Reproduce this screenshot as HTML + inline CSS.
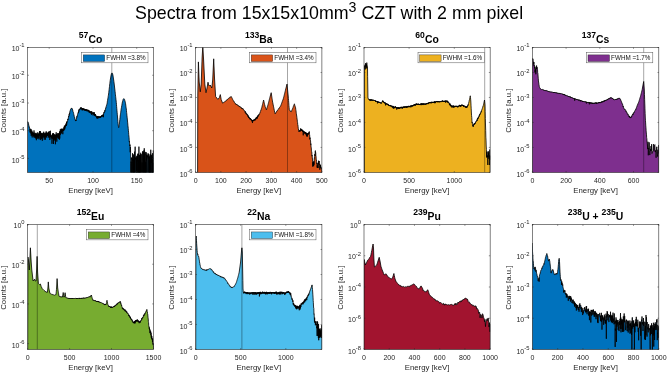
<!DOCTYPE html>
<html lang="en">
<head>
<meta charset="utf-8">
<title>Spectra from 15x15x10mm3 CZT with 2 mm pixel</title>
<style>
html,body{margin:0;padding:0;background:#fff;}
body{width:667px;height:373px;overflow:hidden;}
svg{display:block;}
text{font-family:"Liberation Sans", Arial, Helvetica, sans-serif;fill:#262626;}
.t{font-size:7.0px;}
.l{font-size:7.8px;}
.g{font-size:6.3px;fill:#111;}
.h{font-size:10.4px;font-weight:bold;fill:#000;}
.title{font-size:17.8px;fill:#000;}
</style>
</head>
<body>
<svg width="667" height="373" viewBox="0 0 667 373">
<rect width="667" height="373" fill="#fff"/>
<text x="329.1" y="19.1" text-anchor="middle" class="title">Spectra from 15x15x10mm<tspan dy="-7.6" font-size="14.2">3</tspan><tspan dy="7.6"> CZT with 2 mm pixel</tspan></text>
<g>
<clipPath id="c1"><rect x="27.6" y="47.5" width="125.9" height="124.9"/></clipPath>
<g clip-path="url(#c1)">
<path d="M27.5 174.4L27.5 121.6L27.68 121.67L27.85 122.33L28.02 121.94L28.2 122.6L28.39 124.14L28.57 123.87L28.76 125.43L28.94 125.38L29.13 127.24L29.31 126.86L29.5 128.6L29.69 129.18L29.88 128.86L30.07 132.48L30.27 128.79L30.46 131.21L30.65 130.73L30.84 133.43L31.03 128.97L31.23 135.89L31.42 130.52L31.61 134.84L31.8 134L32 130.68L32.2 137.41L32.4 132.53L32.6 135.17L32.8 131.91L33 135.27L33.2 133.21L33.4 135.88L33.6 132.87L33.8 136.73L34 130.42L34.2 137.79L34.4 133.89L34.6 136.12L34.8 132.64L35 136.36L35.2 133.54L35.4 137.77L35.6 133.27L35.8 138.56L36 134.8L36.19 133.97L36.38 140.2L36.58 133.31L36.77 136.68L36.96 134.62L37.15 138.97L37.35 132.4L37.54 136.55L37.73 135.02L37.92 138.03L38.12 133.98L38.31 136.47L38.5 134.12L38.69 138.33L38.88 132.8L39.08 139.45L39.27 132.62L39.46 135.72L39.65 131.01L39.85 135.88L40.04 131L40.23 137.65L40.42 131.36L40.62 140.06L40.81 133.64L41 134.4L41.19 139.05L41.38 133.35L41.58 137.7L41.77 132.8L41.96 138.55L42.15 133.97L42.35 140.77L42.54 133.44L42.73 136.62L42.92 133.51L43.12 137.7L43.31 132.76L43.5 136.07L43.69 131.71L43.88 137.14L44.08 133.54L44.27 139.66L44.46 133.4L44.65 137.35L44.85 134.27L45.04 136.9L45.23 132.64L45.42 139.71L45.62 133.29L45.81 136.08L46 135.6L46.19 131.31L46.38 136.78L46.58 132.45L46.77 137.71L46.96 133.03L47.15 135.97L47.35 133.4L47.54 135.25L47.73 133L47.92 135.7L48.12 131.98L48.31 135.18L48.5 132.05L48.69 137.2L48.88 131.71L49.08 137.97L49.27 131.1L49.46 135.37L49.65 133.6L49.85 140.02L50.04 133.95L50.23 137.02L50.42 130.74L50.62 136.99L50.81 134.52L51 136.6L51.19 138.62L51.38 135.53L51.58 137.47L51.77 135.82L51.96 143.78L52.15 135.08L52.34 137.48L52.53 133.75L52.73 139.08L52.92 133.27L53.11 137.36L53.3 133.18L53.49 143.99L53.68 133.74L53.88 140.52L54.07 134.99L54.26 138.71L54.45 135.44L54.64 139.37L54.83 134.02L55.02 140.48L55.22 134.86L55.41 144.25L55.6 136.4L55.8 134.9L56 139.75L56.2 132.27L56.4 137.4L56.6 134.01L56.8 141.67L57 135.37L57.2 137.66L57.4 134.61L57.6 137.22L57.8 133.23L58 137L58.2 133.04L58.4 138.55L58.6 134.01L58.8 138.47L59 133.6L59.19 134.34L59.38 139.73L59.57 131.87L59.76 138.51L59.95 130.97L60.15 135.09L60.34 129.28L60.53 134.37L60.72 130.7L60.91 132.78L61.1 128.8L61.29 132.31L61.48 128.77L61.67 133.5L61.86 129.24L62.05 131.22L62.25 129.44L62.44 131.41L62.63 129L62.82 134.22L63.01 128.4L63.2 130L63.4 130.98L63.6 128.75L63.8 130.68L64 126.92L64.2 129.28L64.4 125.72L64.6 129.69L64.8 125.84L65 128.41L65.2 125.31L65.4 126.78L65.6 124.49L65.8 125.82L66 124.8L66.17 123.32L66.35 125.95L66.53 122.02L66.7 124.7L66.88 121.48L67.05 122.38L67.23 121.36L67.4 121.5L67.59 120.94L67.78 119.16L67.96 120.04L68.15 118.27L68.34 118.43L68.53 116.29L68.71 116.91L68.9 115.7L69.09 114.45L69.27 115.32L69.46 113.04L69.64 113.66L69.83 111.51L70.01 111.13L70.2 110.6L70.4 109.68L70.6 109.83L70.8 108.91L71 108.6L71.2 108.49L71.4 108.09L71.6 108.1L71.77 108.55L71.95 108.33L72.12 109.06L72.3 109L72.48 109.11L72.66 110.44L72.84 110.39L73.02 111.63L73.2 112L73.37 112.24L73.53 113.34L73.7 113.57L73.87 114.64L74.03 115.1L74.2 116.2L74.39 116.72L74.58 116.93L74.76 118.45L74.95 118.41L75.14 119.67L75.33 119.69L75.51 121.02L75.7 121L75.88 120.15L76.06 121.01L76.24 119.19L76.42 119.2L76.6 118L76.77 116.45L76.93 117.24L77.1 116.19L77.27 116.04L77.43 114.85L77.6 114.3L77.78 114.22L77.96 112.98L78.13 113.01L78.31 111.98L78.49 112.72L78.67 110.4L78.84 111.57L79.02 109.31L79.2 109.7L79.39 110.12L79.57 109.05L79.76 109.61L79.94 108.69L80.13 109.03L80.31 107.91L80.5 107.9L80.67 109.21L80.83 107.49L81 108.47L81.17 107.37L81.33 108.32L81.5 108.2L81.69 108.06L81.88 109.7L82.06 108.35L82.25 110.46L82.44 108.33L82.62 109.77L82.81 108.02L83 109.3L83.19 109.94L83.38 108.52L83.58 110.08L83.77 108.69L83.96 110.16L84.15 108.67L84.35 109.98L84.54 109.31L84.73 110.67L84.92 109.21L85.12 110.31L85.31 109.31L85.5 110.83L85.69 109.27L85.88 110.36L86.08 109.33L86.27 110.31L86.46 109.57L86.65 111.16L86.85 109.57L87.04 110.5L87.23 110.01L87.42 111.22L87.62 109.71L87.81 111.1L88 111L88.2 109.86L88.39 111.63L88.59 110.21L88.79 111.32L88.98 110.07L89.18 112.65L89.38 111.16L89.57 112.26L89.77 111.09L89.97 112.82L90.16 111.27L90.36 113.1L90.56 111.66L90.75 112.31L90.95 112L91.14 113.67L91.34 111.41L91.54 114.77L91.73 111.34L91.93 113.78L92.13 112.54L92.32 113.39L92.52 112.57L92.72 113.54L92.91 113.22L93.11 115.45L93.31 112.29L93.5 114.22L93.7 114.4L93.9 112.58L94.1 114.58L94.3 112.3L94.5 115.46L94.7 114.08L94.9 116.07L95.1 114.81L95.3 115.88L95.5 114.05L95.7 116.17L95.9 115.38L96.1 116.68L96.3 116.05L96.5 117.3L96.69 117.8L96.88 116.13L97.07 118.62L97.26 116.65L97.45 118.18L97.64 116.15L97.83 118.32L98.02 115.96L98.21 117.99L98.4 118.2L98.6 116.53L98.8 117.44L99 116.44L99.2 117.23L99.4 116.94L99.6 117.97L99.8 116.29L100 118L100.2 116.5L100.4 117.65L100.6 116.34L100.8 117.44L101 116.8L101.18 115.99L101.37 116.66L101.55 115.7L101.73 116.92L101.92 115.03L102.1 116.42L102.28 115.57L102.47 116.23L102.65 115.17L102.83 116.16L103.02 114.22L103.2 114.4L103.39 117.21L103.58 113.22L103.77 113.42L103.96 112.29L104.15 113.03L104.35 111.61L104.54 111.62L104.73 110.49L104.92 111.44L105.11 109.66L105.3 109.5L105.49 109.54L105.68 107.99L105.87 108L106.06 106.74L106.24 106.44L106.43 105.54L106.62 105.6L106.81 104.45L107 104L107.2 102.93L107.4 101.15L107.6 100.33L107.8 98.83L108 97.77L108.2 96.39L108.4 95.26L108.6 94L108.78 92.44L108.96 90.99L109.13 89.45L109.31 87.98L109.49 86.47L109.67 84.99L109.84 83.48L110.02 82L110.2 80.5L111.1 75L111.6 73.3L112 72.9L112.4 73.3L112.9 75L113.9 81.5L115.1 91.7L115.27 93.23L115.44 94.81L115.61 96.31L115.79 97.91L115.96 99.37L116.13 101.02L116.3 102.5L116.47 104.51L116.64 106.64L116.81 108.59L116.99 110.83L117.16 112.74L117.33 114.83L117.5 117L117.7 119.03L117.9 121.49L118.1 123.46L118.3 126L118.43 126.44L118.57 126.77L118.7 127.6L118.9 126.77L119.1 125.42L119.3 124.5L119.48 122.9L119.66 121.05L119.84 119.52L120.02 117.62L120.2 116L120.37 114.82L120.53 113.55L120.7 112.49L120.87 111.2L121.03 110.15L121.2 108.9L121.37 107.86L121.54 107.14L121.71 105.87L121.89 105.18L122.06 103.89L122.23 103.03L122.4 102L122.6 101.27L122.8 100.68L123 99.91L123.2 99.3L123.4 99.09L123.6 98.77L123.8 98.6L123.97 98.83L124.15 98.92L124.33 99.2L124.5 99.3L124.68 99.89L124.86 100.69L125.04 101.17L125.22 101.97L125.4 102.5L125.58 103.74L125.76 105.12L125.94 106.33L126.12 107.75L126.3 108.9L126.47 110.61L126.63 112.44L126.8 113.9L126.97 115.86L127.13 117.16L127.3 119L127.5 121.02L127.7 122.87L127.9 125.19L128.1 127L128.26 128.61L128.42 130.84L128.58 132.2L128.74 134.49L128.9 136L129.08 137.5L129.26 141.56L129.44 141.04L129.62 143.87L129.8 146L130 144.65L130.2 152.27L130.4 146.84L130.6 152L130.73 163.22L130.86 174.4L130.99 174.4L131.12 161.65L131.25 174.4L131.38 161.96L131.51 157.57L131.64 159.35L131.77 157.94L131.9 174.4L132.03 174.4L132.16 174.4L132.29 174.4L132.42 161.83L132.55 153.28L132.68 174.4L132.81 174.4L132.94 158.89L133.07 174.4L133.2 174.4L133.33 162.95L133.46 154.47L133.59 174.4L133.72 159.36L133.85 174.4L133.98 174.4L134.11 174.4L134.24 156.3L134.37 174.4L134.5 151.68L134.63 174.4L134.76 174.4L134.89 174.4L135.02 155.19L135.15 146.7L135.28 159.29L135.41 157.98L135.54 157.51L135.67 174.4L135.8 174.4L135.93 174.4L136.06 174.4L136.19 158.23L136.32 174.4L136.45 156.45L136.58 156.63L136.71 158.5L136.84 174.4L136.97 158.5L137.1 155.65L137.23 174.4L137.36 156.11L137.49 155.91L137.62 161.24L137.75 155.71L137.88 153.9L138.01 174.4L138.14 153.52L138.27 174.4L138.4 174.4L138.53 160.52L138.66 174.4L138.79 174.4L138.92 146.64L139.05 174.4L139.18 174.4L139.31 155.04L139.44 174.4L139.57 160.66L139.7 174.4L139.83 155.21L139.96 156.23L140.09 174.4L140.22 162.41L140.35 154.1L140.48 174.4L140.61 157.94L140.74 152.75L140.87 160.69L141 174.4L141.13 174.4L141.26 174.4L141.39 154.23L141.52 174.4L141.65 174.4L141.78 174.4L141.91 174.4L142.04 162.51L142.17 174.4L142.3 174.4L142.43 174.4L142.56 151.35L142.69 174.4L142.82 174.4L142.95 174.4L143.08 174.4L143.21 157.34L143.34 151.71L143.47 174.4L143.6 158.88L143.73 155.45L143.86 150.75L143.99 150.37L144.12 174.4L144.25 148.27L144.38 174.4L144.51 153.78L144.64 154.06L144.77 155.02L144.9 153.53L145.03 161.13L145.16 174.4L145.29 151.92L145.42 174.4L145.55 174.4L145.68 161.72L145.81 174.4L145.94 174.4L146.07 156.73L146.2 152.68L146.33 152.3L146.46 160.42L146.59 155.12L146.72 174.4L146.85 154.68L146.98 156.9L147.11 155.41L147.24 174.4L147.37 174.4L147.5 174.4L147.63 174.4L147.76 156.25L147.89 157.09L148.02 153.3L148.15 158.44L148.28 156.26L148.41 154.61L148.54 153.88L148.67 174.4L148.8 157.45L148.93 158.17L149.06 159.26L149.19 174.4L149.32 174.4L149.45 157.12L149.58 174.4L149.71 155.6L149.84 174.4L149.97 174.4L150.1 154.21L150.23 155.35L150.36 174.4L150.49 174.4L150.62 157.61L150.75 149.76L150.88 157.48L151.01 174.4L151.14 174.4L151.27 154.76L151.4 161.36L151.53 162.86L151.66 155.53L151.79 174.4L151.92 174.4L152.05 163.03L152.18 157.22L152.31 174.4L152.44 153.25L152.57 161.38L152.7 160.04L152.83 174.4L152.96 162.75L153.09 174.4L153.22 174.4L153.35 150.39L153.48 153.88L153.6 156.8L153.6 174.4Z" fill="#0072BD" stroke="#000" stroke-width="0.8" stroke-linejoin="round"/>
<line x1="111.8" y1="47.5" x2="111.8" y2="172.4" stroke="#000" stroke-opacity="0.5" stroke-width="0.7"/>
</g>
<rect x="27.6" y="47.5" width="125.9" height="124.9" fill="none" stroke="#262626" stroke-width="0.58"/>
<path d="M27.6 47.5h1.3M153.5 47.5h-1.3M27.6 75.25h1.3M153.5 75.25h-1.3M27.6 103h1.3M153.5 103h-1.3M27.6 130.7h1.3M153.5 130.7h-1.3M27.6 158.4h1.3M153.5 158.4h-1.3M49.2 172.4v-1.3M49.2 47.5v1.3M93 172.4v-1.3M93 47.5v1.3M136.7 172.4v-1.3M136.7 47.5v1.3" stroke="#262626" stroke-width="0.5" fill="none"/>
<text x="24.6" y="50.95" text-anchor="end" class="t">10<tspan dy="-3.6" font-size="5.8">-1</tspan></text>
<text x="24.6" y="78.9" text-anchor="end" class="t">10<tspan dy="-3.6" font-size="5.8">-2</tspan></text>
<text x="24.6" y="106.85" text-anchor="end" class="t">10<tspan dy="-3.6" font-size="5.8">-3</tspan></text>
<text x="24.6" y="134.75" text-anchor="end" class="t">10<tspan dy="-3.6" font-size="5.8">-4</tspan></text>
<text x="24.6" y="162.65" text-anchor="end" class="t">10<tspan dy="-3.6" font-size="5.8">-5</tspan></text>
<text x="49.2" y="182.9" text-anchor="middle" class="t">50</text>
<text x="93" y="182.9" text-anchor="middle" class="t">100</text>
<text x="136.7" y="182.9" text-anchor="middle" class="t">150</text>
<text x="90.55" y="193" text-anchor="middle" class="l">Energy [keV]</text>
<text transform="translate(6.3 110.65) rotate(-90)" text-anchor="middle" class="l">Counts [a.u.]</text>
<text x="90.55" y="43" text-anchor="middle" class="h"><tspan dy="-4.9" font-size="8.6">57</tspan><tspan dy="4.9">Co</tspan></text>
<rect x="81.6" y="52.5" width="66.4" height="10.3" fill="#fff" stroke="#555" stroke-width="0.5"/>
<rect x="83.2" y="54.9" width="21.5" height="6.6" fill="#0072BD" stroke="#222" stroke-width="0.4"/>
<text x="106.3" y="59.9" class="g">FWHM =3.8%</text>
</g>
<g>
<clipPath id="c2"><rect x="195.6" y="47.5" width="126.3" height="124.9"/></clipPath>
<g clip-path="url(#c2)">
<path d="M197.6 174.4L197.6 172.4L197.8 95L198.4 61.9L199.2 82L200.3 91.8L201.2 84L202.1 58L202.8 46L203.6 60L204.8 84L206 92.7L207 88L208 82.2L208.8 85.5L209.3 86L210.2 85L211.8 88L212.7 80L213.7 58.8L214.5 78L215.6 96.5L217.9 99.4L219.4 97.5L220.3 94.6L221.2 99.5L222.6 103.2L222.78 103.06L222.97 102.97L223.15 102.81L223.34 102.78L223.52 102.54L223.71 102.51L223.89 102.32L224.08 102.28L224.26 102.04L224.45 102.04L224.63 101.78L224.82 101.69L225 101.5L225.19 101.2L225.38 101.3L225.56 101.02L225.75 100.95L225.94 100.7L226.12 100.68L226.31 100.29L226.5 100.39L226.69 99.98L226.88 99.99L227.06 99.59L227.25 99.67L227.44 99.23L227.62 99.27L227.81 99.05L228 99L228.2 98.87L228.4 98.56L228.6 98.53L228.8 98.25L229 98.39L229.2 97.92L229.4 97.97L229.6 97.53L229.8 97.69L230 97.3L230.2 97.25L230.4 96.88L230.6 97.12L230.8 96.71L231 96.73L231.2 96.5L231.38 96.68L231.56 97.2L231.74 97.43L231.92 97.95L232.1 98.09L232.28 98.67L232.46 98.83L232.64 99.43L232.82 99.61L233 100L233.18 100.34L233.36 100.55L233.55 100.9L233.73 100.99L233.91 101.69L234.09 101.6L234.27 102.16L234.45 102.21L234.64 102.79L234.82 102.86L235 103.2L235.19 103.45L235.38 103.33L235.56 103.85L235.75 103.72L235.94 104.31L236.12 103.99L236.31 104.45L236.5 104.38L236.69 104.9L236.88 104.41L237.06 104.86L237.25 104.77L237.44 105.24L237.62 105.14L237.81 105.5L238 105.5L238.19 105.28L238.39 105.74L238.58 105.7L238.78 106.14L238.97 105.91L239.17 106.52L239.36 106.22L239.56 106.6L239.75 106.3L239.95 106.94L240.14 106.68L240.34 107.29L240.53 107.07L240.73 107.38L240.92 107.13L241.12 107.65L241.31 107.58L241.51 108.41L241.7 108L241.89 108.06L242.08 108.61L242.27 108.25L242.47 108.96L242.66 108.55L242.85 109.15L243.04 108.85L243.23 109.53L243.43 109.35L243.62 109.69L243.81 109.71L244 110L244.18 110.64L244.37 110.5L244.55 111.17L244.74 111.1L244.92 111.64L245.11 111.52L245.29 112.77L245.48 111.54L245.66 112.62L245.85 112.39L246.03 114.03L246.22 113.05L246.4 113.6L246.59 114.13L246.79 113.85L246.98 114.99L247.17 114.21L247.37 115.1L247.56 114.8L247.75 116.16L247.95 115.35L248.14 116.75L248.33 115.77L248.53 117.93L248.72 116.76L248.91 117.79L249.11 116.95L249.3 118L249.5 118.94L249.7 118.28L249.9 119.18L250.1 118.29L250.3 119.51L250.5 118.35L250.7 119.42L250.9 118.94L251.1 120.13L251.3 119.27L251.5 120.56L251.7 120.11L251.9 121.32L252.1 121L252.29 120.05L252.48 123.03L252.67 120.38L252.86 121.11L253.05 119.93L253.24 121.02L253.43 120.39L253.62 121.09L253.81 119.59L254 120.3L254.19 120.51L254.38 119.52L254.56 120.17L254.75 119.21L254.94 120.5L255.12 118.83L255.31 119.58L255.5 118.78L255.69 119.71L255.88 118.02L256.06 118.89L256.25 117.23L256.44 118.55L256.62 117.26L256.81 117.69L257 117L257.19 116.56L257.37 118.53L257.56 115.79L257.75 116.81L257.93 115.74L258.12 115.97L258.31 115.35L258.49 116.25L258.68 114.74L258.87 115.06L259.05 113.98L259.24 114.24L259.43 113.63L259.61 113.68L259.8 113.5L259.98 112.45L260.16 112.47L260.35 111.58L260.53 111.36L260.71 110.45L260.89 110.52L261.07 109.52L261.25 109.43L261.44 108.42L261.62 108L261.8 107.5L261.98 106.62L262.16 106.1L262.34 105.17L262.52 104.55L262.7 103.67L262.88 103.15L263.06 102.16L263.24 101.52L263.42 100.7L263.6 100L263.8 101.03L264 101.65L264.2 102.63L264.4 103.39L264.6 104.49L264.8 105.02L265 106L265.2 106.73L265.4 107.03L265.6 107.76L265.8 108.16L266 108.87L266.2 109.3L266.4 109.9L266.58 109.49L266.76 108.6L266.94 108.14L267.12 107.46L267.3 107.07L267.48 106.26L267.66 105.84L267.84 105.15L268.02 104.63L268.2 104L268.38 103.27L268.56 102.64L268.74 101.87L268.92 101.26L269.1 100.48L269.28 99.81L269.46 99.09L269.64 98.42L269.82 97.69L270 97L271.2 92.7L271.38 93.88L271.55 95.02L271.73 96.22L271.9 97.33L272.07 98.56L272.25 99.64L272.43 100.86L272.6 102L272.8 102.9L273 104L273.2 104.84L273.4 106L273.6 106.8L273.8 107.87L274 108.76L274.2 110.03L274.4 110.71L274.6 112.05L274.8 112.61L275 113.7L275.19 113.64L275.38 113.14L275.58 113.39L275.77 112.71L275.96 112.52L276.15 111.94L276.35 111.91L276.54 111.52L276.73 111.56L276.92 111.04L277.12 110.97L277.31 110.42L277.5 110.5L277.7 110.09L277.9 109.7L278.1 109.51L278.3 109.17L278.5 109.13L278.7 108.61L278.9 108.75L279.1 108.05L279.3 107.92L279.5 107.46L279.7 107.36L279.9 106.96L280.1 106.82L280.3 106.35L280.5 106.31L280.7 106L280.89 105.29L281.07 104.97L281.26 104.35L281.45 104.03L281.63 103.31L281.82 102.99L282.01 102.21L282.19 101.8L282.38 101.15L282.57 100.72L282.75 100.04L282.94 99.76L283.13 99.02L283.31 98.7L283.5 98L283.68 97.27L283.86 96.63L284.05 95.79L284.23 95.18L284.41 94.35L284.59 93.66L284.77 92.9L284.95 92.2L285.14 91.45L285.32 90.73L285.5 90L287 84.1L288.2 96L288.38 98.31L288.57 100.68L288.75 102.9L288.93 105.44L289.12 107.49L289.3 109.9L289.49 110.13L289.68 110.23L289.87 110.64L290.06 110.64L290.25 111.1L290.44 111.05L290.63 111.46L290.82 111.53L291.01 111.85L291.2 111.8L291.38 111.44L291.56 111.12L291.74 110.41L291.92 110.19L292.1 109.66L292.28 109.36L292.46 108.79L292.64 108.77L292.82 107.88L293 107.5L293.2 107.32L293.4 106.26L293.6 105.99L293.8 105.26L294 104.98L294.2 104.29L294.4 103.8L294.57 104.51L294.74 104.92L294.91 105.76L295.09 106.11L295.26 107.04L295.43 107.23L295.6 108L295.79 109.52L295.97 110.44L296.16 112.19L296.34 113.41L296.53 114.98L296.71 116.05L296.9 117.5L297.07 119.02L297.23 119.95L297.4 121.83L297.57 122.54L297.73 124.56L297.9 125L298.08 126.44L298.26 128.67L298.44 128.76L298.62 130.83L298.8 131.5L299 131.02L299.2 131.5L299.4 130.65L299.6 131.09L299.8 130.21L300 131.68L300.2 129.97L300.4 130.73L300.6 128.41L300.8 130.12L301 130.5L301.19 128.91L301.38 130.97L301.56 129.6L301.75 130.12L301.94 129.51L302.12 130.65L302.31 129.92L302.5 131.4L302.69 130.37L302.88 131.94L303.06 130.58L303.25 135.34L303.44 130.99L303.62 132L303.81 131.31L304 132.5L304.19 133.81L304.38 131.63L304.56 132.73L304.75 131.83L304.94 132.82L305.12 132.03L305.31 133.46L305.5 132.07L305.69 134.17L305.88 133.18L306.06 134.5L306.25 132.68L306.44 135.69L306.62 132.93L306.81 136.46L307 134.5L307.19 134.03L307.38 136.47L307.56 133.15L307.75 135.07L307.94 133.5L308.12 134.61L308.31 133.16L308.5 133L308.66 133.8L308.82 132.48L308.98 133.02L309.14 132.25L309.3 131.5L309.48 134.37L309.67 134.76L309.85 139.31L310.03 137.62L310.22 139.53L310.4 140L310.57 140.89L310.74 144.68L310.91 143.74L311.09 147.41L311.26 147.44L311.43 150.23L311.6 151.5L311.79 152.03L311.98 156.08L312.16 155.29L312.35 158.75L312.54 158.5L312.73 166.64L312.91 162.19L313.1 164.9L313.28 165.63L313.47 162.13L313.65 166.17L313.83 161.13L314.02 164.72L314.2 160L314.4 157.77L314.6 158.18L314.8 154.18L315 155.99L315.2 151.32L315.4 150.6L315.57 153.24L315.73 152.77L315.9 155.89L316.07 156.5L316.23 160L316.4 160L316.58 161.29L316.77 163.98L316.95 163.3L317.13 167.55L317.32 165.45L317.5 168L317.69 167.54L317.87 163.4L318.06 167.97L318.24 162.58L318.43 164.17L318.61 160.71L318.8 161L319 162.59L319.2 161.05L319.4 164.74L319.6 163.73L319.8 169.73L320 166L320.18 165.14L320.35 167.76L320.52 164.72L320.7 167.7L320.88 167.75L321.05 166.87L321.23 168.52L321.4 168.07L321.57 168.85L321.75 168.81L321.93 170.32L322.1 170L322.1 174.4Z" fill="#D95319" stroke="#000" stroke-width="0.8" stroke-linejoin="round"/>
<line x1="287.5" y1="47.5" x2="287.5" y2="172.4" stroke="#000" stroke-opacity="0.5" stroke-width="0.7"/>
</g>
<rect x="195.6" y="47.5" width="126.3" height="124.9" fill="none" stroke="#262626" stroke-width="0.58"/>
<path d="M195.6 47.5h1.3M321.9 47.5h-1.3M195.6 72.48h1.3M321.9 72.48h-1.3M195.6 97.46h1.3M321.9 97.46h-1.3M195.6 122.44h1.3M321.9 122.44h-1.3M195.6 147.42h1.3M321.9 147.42h-1.3M195.6 172.4h1.3M321.9 172.4h-1.3M195.6 172.4v-1.3M195.6 47.5v1.3M220.86 172.4v-1.3M220.86 47.5v1.3M246.12 172.4v-1.3M246.12 47.5v1.3M271.38 172.4v-1.3M271.38 47.5v1.3M296.64 172.4v-1.3M296.64 47.5v1.3M321.9 172.4v-1.3M321.9 47.5v1.3" stroke="#262626" stroke-width="0.5" fill="none"/>
<text x="192.6" y="50.95" text-anchor="end" class="t">10<tspan dy="-3.6" font-size="5.8">-1</tspan></text>
<text x="192.6" y="76.11" text-anchor="end" class="t">10<tspan dy="-3.6" font-size="5.8">-2</tspan></text>
<text x="192.6" y="101.27" text-anchor="end" class="t">10<tspan dy="-3.6" font-size="5.8">-3</tspan></text>
<text x="192.6" y="126.43" text-anchor="end" class="t">10<tspan dy="-3.6" font-size="5.8">-4</tspan></text>
<text x="192.6" y="151.59" text-anchor="end" class="t">10<tspan dy="-3.6" font-size="5.8">-5</tspan></text>
<text x="192.6" y="176.75" text-anchor="end" class="t">10<tspan dy="-3.6" font-size="5.8">-6</tspan></text>
<text x="195.6" y="182.9" text-anchor="middle" class="t">0</text>
<text x="220.86" y="182.9" text-anchor="middle" class="t">100</text>
<text x="246.12" y="182.9" text-anchor="middle" class="t">200</text>
<text x="271.38" y="182.9" text-anchor="middle" class="t">300</text>
<text x="296.64" y="182.9" text-anchor="middle" class="t">400</text>
<text x="321.9" y="182.9" text-anchor="middle" class="t">500</text>
<text x="258.75" y="193" text-anchor="middle" class="l">Energy [keV]</text>
<text transform="translate(174.3 110.65) rotate(-90)" text-anchor="middle" class="l">Counts [a.u.]</text>
<text x="258.75" y="43" text-anchor="middle" class="h"><tspan dy="-4.9" font-size="8.6">133</tspan><tspan dy="4.9">Ba</tspan></text>
<rect x="249.6" y="52.5" width="66.4" height="10.3" fill="#fff" stroke="#555" stroke-width="0.5"/>
<rect x="251.2" y="54.9" width="21.5" height="6.6" fill="#D95319" stroke="#222" stroke-width="0.4"/>
<text x="274.3" y="59.9" class="g">FWHM =3.4%</text>
</g>
<g>
<clipPath id="c3"><rect x="364" y="47.5" width="126.15" height="124.9"/></clipPath>
<g clip-path="url(#c3)">
<path d="M364.3 174.4L364.3 172.4L364.4 70L364.55 67.18L364.7 65.8L364.88 68.43L365.05 64.74L365.22 69.43L365.4 65.6L365.58 63.18L365.76 66.55L365.94 65.15L366.12 66.67L366.3 65.6L366.46 64.16L366.62 68.4L366.78 62.62L366.94 65.8L367.1 65.6L367.3 66.15L367.5 67L367.62 76.25L367.75 85L367.95 98L368.11 98.26L368.27 98.92L368.44 98.77L368.6 99.2L368.8 99.55L369 99.23L369.2 99.72L369.4 99.21L369.6 100.37L369.8 99.64L370 100.33L370.2 99.49L370.4 100.7L370.6 99.54L370.8 100.61L371 99.6L371.2 99.05L371.4 100.1L371.6 99.75L371.8 100.86L372 99.82L372.2 100.47L372.4 100.09L372.6 100.54L372.8 99.56L373 100.49L373.2 99.88L373.4 100.39L373.6 99.94L373.8 100.38L374 100.02L374.2 100.79L374.4 100.4L374.59 100.12L374.78 100.75L374.97 100.27L375.16 100.87L375.35 100.43L375.54 101.71L375.73 100.82L375.92 101.84L376.11 100.92L376.29 101.45L376.48 101.12L376.67 101.5L376.86 100.99L377.05 101.65L377.24 101.01L377.43 103.39L377.62 101.19L377.81 101.78L378 101.8L378.19 101.54L378.39 102.7L378.58 101.77L378.77 102.65L378.97 101.74L379.16 102.74L379.36 102.15L379.55 102.83L379.74 102.34L379.94 102.91L380.13 102.02L380.33 103.07L380.52 102.76L380.71 103.4L380.91 102.94L381.1 103.2L381.28 103.64L381.47 102.61L381.65 103.08L381.83 102.16L382.02 102.06L382.2 101.6L382.36 101.28L382.52 101.97L382.68 100.46L382.84 101.68L383 100.9L383.2 101.35L383.4 102.14L383.6 101.48L383.8 102.85L384 102.19L384.2 102.3L384.39 102.87L384.58 102.25L384.77 103.47L384.96 102.19L385.15 103.34L385.34 102.87L385.53 105.38L385.72 103.15L385.91 103.73L386.09 103.27L386.28 104.14L386.47 103.53L386.66 104.39L386.85 103.73L387.04 104.56L387.23 104.05L387.42 104.97L387.61 103.72L387.8 104.3L388 104.97L388.2 104.04L388.4 105.52L388.6 104.73L388.8 105.82L389 105.03L389.2 105.67L389.4 105.22L389.6 105.73L389.8 105.06L390 106.19L390.2 104.98L390.4 105.9L390.6 105.46L390.8 106.3L391 105.28L391.2 106.62L391.4 105.93L391.6 106.45L391.8 105.87L392 106.3L392.2 107.35L392.39 105.98L392.59 107.33L392.78 105.87L392.98 107.73L393.17 106.18L393.37 108.67L393.56 106.47L393.76 107.36L393.95 106.79L394.15 108.33L394.35 106.66L394.54 107.9L394.74 106.98L394.93 108.17L395.13 107.17L395.32 107.65L395.52 106.15L395.71 107.42L395.91 107.25L396.1 107.94L396.3 107.9L396.49 107.23L396.69 109.61L396.88 107.31L397.08 107.98L397.27 107.38L397.47 108.22L397.66 107.55L397.86 108.89L398.05 107.35L398.25 108.95L398.44 107.54L398.64 108.19L398.83 107.21L399.03 108.58L399.22 107.71L399.42 108.74L399.61 107.58L399.81 108.63L400 107.7L400.2 107.26L400.39 107.84L400.59 106.95L400.78 108.12L400.98 107.15L401.18 108.33L401.37 106.75L401.57 107.56L401.76 107.2L401.96 107.95L402.16 106.95L402.35 108.77L402.55 106.98L402.74 108.04L402.94 106.85L403.14 107.84L403.33 106.68L403.53 107.55L403.72 106.58L403.92 107.26L404.12 106.75L404.31 107.6L404.51 106.47L404.7 107.98L404.9 107L405.1 106.63L405.29 107.34L405.49 106.44L405.69 107.49L405.89 106.6L406.08 107.16L406.28 106.57L406.48 107.87L406.67 106.47L406.87 107.33L407.07 105.96L407.27 107.16L407.46 106.43L407.66 107.43L407.86 106.3L408.06 107.21L408.25 106.08L408.45 106.86L408.65 105.82L408.84 106.63L409.04 106.06L409.24 107.2L409.44 106.14L409.63 107.06L409.83 106.02L410.03 106.64L410.23 105.75L410.42 106.31L410.62 105.99L410.82 107.36L411.01 105.25L411.21 106.45L411.41 105.69L411.61 106.47L411.8 105.5L412 105.6L412.2 106.77L412.4 105.09L412.59 105.89L412.79 105.07L412.99 106.21L413.19 105.06L413.38 105.94L413.58 105.36L413.78 105.67L413.98 104.4L414.17 105.08L414.37 104.23L414.57 105.44L414.77 104.54L414.96 105.47L415.16 104.27L415.36 105.64L415.56 104.38L415.75 104.92L415.95 103.8L416.15 104.87L416.35 103.3L416.54 104.78L416.74 104.08L416.94 104.88L417.14 104.16L417.33 104.8L417.53 104.04L417.73 104.83L417.93 103.55L418.12 104.71L418.32 103.69L418.52 104.99L418.72 104.18L418.91 104.81L419.11 104.17L419.31 104.89L419.51 104.05L419.7 105.04L419.9 103.97L420.1 104.1L420.3 104.81L420.49 104.22L420.69 104.76L420.89 103.42L421.09 105.18L421.28 103.29L421.48 104.8L421.68 103.83L421.87 104.34L422.07 103.49L422.27 104.6L422.47 103.5L422.66 104.71L422.86 103.76L423.06 105.06L423.25 103.91L423.45 104.61L423.65 103.27L423.85 104.4L424.04 103.55L424.24 104.27L424.44 103.75L424.63 104.4L424.83 103.81L425.03 104.86L425.23 103.82L425.42 104.42L425.62 103.58L425.82 104.46L426.01 103.76L426.21 104.32L426.41 103.19L426.61 104.11L426.8 103.2L427 103L427.2 103.89L427.39 103.1L427.59 103.44L427.79 102.93L427.98 104.19L428.18 102.85L428.38 103.72L428.58 102.76L428.77 103.36L428.97 102.25L429.17 102.91L429.36 102.39L429.56 103.09L429.76 102.01L429.95 103.23L430.15 102.16L430.35 102.81L430.55 102.33L430.74 102.92L430.94 102.45L431.14 103.43L431.33 101.73L431.53 102.67L431.73 102.06L431.92 102.78L432.12 102.15L432.32 102.92L432.52 101.82L432.71 102.67L432.91 102.08L433.11 102.89L433.3 102.05L433.5 102.1L433.7 102.79L433.89 102.04L434.09 102.68L434.29 101.06L434.48 102.77L434.68 101.98L434.88 103.27L435.08 101.7L435.27 102.32L435.47 101.78L435.67 102.91L435.86 101.34L436.06 102.01L436.26 101.25L436.45 101.79L436.65 101.22L436.85 101.99L437.05 100.99L437.24 101.63L437.44 101.23L437.64 102.19L437.83 101.08L438.03 102.2L438.23 101.18L438.42 102.16L438.62 101.29L438.82 101.7L439.02 101.49L439.21 101.89L439.41 101.34L439.61 102.39L439.8 101.47L440 101.4L440.19 102.02L440.39 101.4L440.58 101.7L440.78 101.12L440.97 102.12L441.17 101.28L441.36 101.71L441.55 101.11L441.75 101.51L441.94 100.81L442.14 101.35L442.33 100.76L442.53 101.48L442.72 100.42L442.91 101.76L443.11 100.98L443.3 101.48L443.5 100.98L443.69 101.85L443.89 101.23L444.08 101.64L444.27 100.91L444.47 101.74L444.66 100.84L444.86 101.97L445.05 100.9L445.25 101.65L445.44 100.43L445.63 102.67L445.83 101.06L446.02 101.63L446.22 100.91L446.41 101.42L446.61 100.58L446.8 100.7L446.99 102.01L447.18 100.63L447.37 102.41L447.56 101.04L447.75 102.23L447.94 101.55L448.13 102.52L448.32 101.88L448.51 102.77L448.7 102.2L448.89 102.8L449.07 103.62L449.26 103.45L449.45 104.74L449.64 103.48L449.82 105.2L450.01 103.6L450.2 104.6L450.38 105.8L450.55 104.54L450.73 105.76L450.9 104.97L451.07 106.56L451.25 105.56L451.43 106.71L451.6 106.4L451.8 105.53L452 107.68L452.2 106.01L452.4 106.57L452.6 105.66L452.8 107.14L453 106.17L453.2 106.65L453.4 105.46L453.6 107.47L453.8 105.82L454 107.58L454.2 106.1L454.4 106.76L454.6 105.97L454.8 106.59L455 106.3L455.2 105.73L455.4 106.58L455.6 106L455.8 106.91L456 105.94L456.2 106.85L456.4 105.97L456.6 106.31L456.8 105.76L457 106.78L457.2 105.96L457.4 107.09L457.6 106.31L457.8 107.44L458 106.08L458.2 106L458.39 106.68L458.58 105.9L458.77 106.64L458.96 105.77L459.15 106.07L459.34 104.92L459.53 106.09L459.72 104.94L459.91 105.72L460.1 105.24L460.29 106.85L460.48 105.33L460.67 106.31L460.86 105.04L461.05 106.41L461.24 105.28L461.43 105.68L461.62 104.61L461.81 105.53L462 105.1L462.19 104.73L462.38 105.77L462.58 104.9L462.77 105.77L462.96 105.03L463.15 105.96L463.35 105.07L463.54 106.79L463.73 105.54L463.92 106.22L464.12 105.71L464.31 106.52L464.5 106.2L464.69 105.81L464.88 106.55L465.07 106.08L465.27 107.35L465.46 106.66L465.65 107.4L465.84 106.45L466.03 107.74L466.23 106.48L466.42 107.31L466.61 106.74L466.8 108L466.99 107.05L467.18 106.11L467.36 106.91L467.55 105.47L467.74 105.71L467.93 104.71L468.11 105.48L468.3 105L468.5 103.46L468.7 103.19L468.9 102.03L469.1 101.28L469.3 100.12L469.5 99.5L469.66 98.81L469.82 97.8L469.98 97.33L470.14 96.35L470.3 95.8L470.47 97.56L470.63 99.07L470.8 101L471 105.14L471.2 108.81L471.4 113L471.57 115.69L471.75 117.38L471.93 120.74L472.1 123L472.28 122.34L472.45 124.49L472.62 124.54L472.8 126.2L472.97 126.34L473.13 124.86L473.3 126.77L473.47 124.6L473.63 124.91L473.8 125L474 123.73L474.2 124.82L474.4 123.19L474.6 124.26L474.8 123.39L475 123.3L475.19 123.95L475.38 122.31L475.56 122.83L475.75 121.77L475.94 122.01L476.12 121.43L476.31 121.74L476.5 121L476.69 120.42L476.88 120.92L477.08 119.51L477.27 120.56L477.46 118.26L477.65 119.21L477.85 118.06L478.04 118.5L478.23 117.23L478.42 118.21L478.62 116.65L478.81 116.91L479 116.3L479.19 115.43L479.38 116.32L479.58 114.16L479.77 114.7L479.96 113.99L480.15 114.3L480.35 112.99L480.54 113.47L480.73 112.41L480.92 112.75L481.12 111.47L481.31 111.99L481.5 111L481.68 110.13L481.86 110.01L482.04 109.22L482.22 108.93L482.4 108.14L482.58 107.77L482.76 106.8L482.94 106.83L483.12 106.01L483.3 105.5L483.5 104.78L483.7 103.65L483.9 102.91L484.1 101.82L484.3 100.95L484.5 100L485 105L485.17 111.65L485.33 118.59L485.5 125L485.68 130.31L485.85 137.15L486.02 140.09L486.2 146L486.4 149.32L486.6 157.41L486.8 151.76L487 154.72L487.2 157.31L487.4 155.51L487.6 157.68L487.8 164.96L488 151.51L488.2 157.47L488.4 153.5L488.6 155.06L488.8 151.43L489 158.97L489.2 155.2L489.4 165.03L489.6 161.74L489.8 149.51L490 159.94L490.2 155.63L490.2 157L490.2 174.4Z" fill="#EDB120" stroke="#000" stroke-width="0.8" stroke-linejoin="round"/>
<line x1="484.7" y1="47.5" x2="484.7" y2="172.4" stroke="#000" stroke-opacity="0.5" stroke-width="0.7"/>
</g>
<rect x="364" y="47.5" width="126.15" height="124.9" fill="none" stroke="#262626" stroke-width="0.58"/>
<path d="M364 47.5h1.3M490.15 47.5h-1.3M364 72.48h1.3M490.15 72.48h-1.3M364 97.46h1.3M490.15 97.46h-1.3M364 122.44h1.3M490.15 122.44h-1.3M364 147.42h1.3M490.15 147.42h-1.3M364 172.4h1.3M490.15 172.4h-1.3M364 172.4v-1.3M364 47.5v1.3M409.1 172.4v-1.3M409.1 47.5v1.3M454.3 172.4v-1.3M454.3 47.5v1.3" stroke="#262626" stroke-width="0.5" fill="none"/>
<text x="361" y="50.95" text-anchor="end" class="t">10<tspan dy="-3.6" font-size="5.8">-1</tspan></text>
<text x="361" y="76.11" text-anchor="end" class="t">10<tspan dy="-3.6" font-size="5.8">-2</tspan></text>
<text x="361" y="101.27" text-anchor="end" class="t">10<tspan dy="-3.6" font-size="5.8">-3</tspan></text>
<text x="361" y="126.43" text-anchor="end" class="t">10<tspan dy="-3.6" font-size="5.8">-4</tspan></text>
<text x="361" y="151.59" text-anchor="end" class="t">10<tspan dy="-3.6" font-size="5.8">-5</tspan></text>
<text x="361" y="176.75" text-anchor="end" class="t">10<tspan dy="-3.6" font-size="5.8">-6</tspan></text>
<text x="364" y="182.9" text-anchor="middle" class="t">0</text>
<text x="409.1" y="182.9" text-anchor="middle" class="t">500</text>
<text x="454.3" y="182.9" text-anchor="middle" class="t">1000</text>
<text x="427.07" y="193" text-anchor="middle" class="l">Energy [keV]</text>
<text transform="translate(342.7 110.65) rotate(-90)" text-anchor="middle" class="l">Counts [a.u.]</text>
<text x="427.07" y="43" text-anchor="middle" class="h"><tspan dy="-4.9" font-size="8.6">60</tspan><tspan dy="4.9">Co</tspan></text>
<rect x="418" y="52.5" width="66.4" height="10.3" fill="#fff" stroke="#555" stroke-width="0.5"/>
<rect x="419.6" y="54.9" width="21.5" height="6.6" fill="#EDB120" stroke="#222" stroke-width="0.4"/>
<text x="442.7" y="59.9" class="g">FWHM =1.6%</text>
</g>
<g>
<clipPath id="c4"><rect x="532.4" y="47.5" width="126.4" height="124.9"/></clipPath>
<g clip-path="url(#c4)">
<path d="M532 174.4L532 172.4L532.3 80L532.45 69.13L532.6 58.4L532.8 59.31L533 58.97L533.2 61.13L533.4 61.5L533.57 61.95L533.73 64.49L533.9 61.99L534.07 66.2L534.23 65.13L534.4 66L534.58 68.35L534.76 66.8L534.94 72.48L535.12 69.91L535.3 70.5L535.47 71.92L535.65 68.49L535.83 74.28L536 67L536.15 66.71L536.3 68.92L536.45 65.68L536.6 65.5L536.8 68.73L537 67.11L537.2 68.1L537.4 68.5L537.55 69.79L537.7 72.87L537.85 73.13L538 75L538.15 77.07L538.3 78.44L538.45 80.98L538.6 82L538.78 83.07L538.96 84.57L539.14 85.26L539.32 86.73L539.5 87.5L539.69 87.66L539.88 88.11L540.06 88.07L540.25 88.41L540.44 88.45L540.62 88.85L540.81 88.93L541 89.2L541.19 89.57L541.38 89.3L541.57 89.51L541.76 89.38L541.95 89.58L542.14 89.41L542.33 89.63L542.52 89.47L542.71 89.9L542.9 89.64L543.1 89.94L543.29 89.79L543.48 90.05L543.67 89.8L543.86 90.38L544.05 90.06L544.24 90.58L544.43 90.19L544.62 90.44L544.81 90.14L545 90.4L545.19 90.56L545.38 90.34L545.58 90.76L545.77 90.25L545.96 90.69L546.15 90.57L546.35 90.81L546.54 90.57L546.73 91.07L546.92 90.82L547.12 91.09L547.31 90.79L547.5 91.16L547.69 90.94L547.88 91.29L548.08 91.08L548.27 91.44L548.46 91.07L548.65 91.44L548.85 91.31L549.04 91.65L549.23 91.4L549.42 91.8L549.62 91.61L549.81 92.15L550 91.8L550.19 91.64L550.39 92.06L550.58 91.88L550.77 92.15L550.97 91.99L551.16 92.18L551.35 91.73L551.55 92.2L551.74 92L551.94 92.18L552.13 91.86L552.32 92.28L552.52 92.11L552.71 92.32L552.9 92.13L553.1 92.3L553.29 92.09L553.48 92.85L553.68 92.19L553.87 92.56L554.06 92.14L554.26 92.45L554.45 92.2L554.65 92.85L554.84 92.23L555.03 92.65L555.23 92.36L555.42 92.68L555.61 92.6L555.81 93.09L556 92.7L556.2 92.64L556.39 93.12L556.59 92.75L556.79 93.14L556.98 92.79L557.18 93.12L557.38 92.85L557.57 93.41L557.77 93.06L557.96 93.28L558.16 93.14L558.36 93.31L558.55 92.96L558.75 93.67L558.95 93.23L559.14 93.42L559.34 93.24L559.54 93.87L559.73 93.38L559.93 93.7L560.12 93.37L560.32 93.86L560.52 93.53L560.71 93.84L560.91 93.65L561.11 93.95L561.3 93.67L561.5 93.7L561.7 93.97L561.89 93.77L562.09 94.11L562.29 93.84L562.48 94.12L562.68 93.98L562.88 94.37L563.07 93.94L563.27 94.63L563.46 94.1L563.66 94.7L563.86 94.31L564.05 95.05L564.25 94.42L564.45 94.89L564.64 94.42L564.84 95.23L565.04 94.9L565.23 95.23L565.43 94.9L565.62 95.58L565.82 95.25L566.02 95.79L566.21 95.38L566.41 95.7L566.61 95.7L566.8 96.02L567 95.7L567.2 95.54L567.39 96.1L567.59 95.89L567.79 96.31L567.98 96.14L568.18 96.41L568.38 96.08L568.57 96.88L568.77 96.35L568.97 96.76L569.16 96.45L569.36 96.79L569.56 96.51L569.75 96.89L569.95 96.63L570.15 97.42L570.34 96.64L570.54 97.09L570.74 96.99L570.93 97.81L571.13 97.14L571.33 97.44L571.52 97.26L571.72 97.7L571.92 97.4L572.11 97.83L572.31 97.66L572.51 98.15L572.7 97.85L572.9 98L573.1 98.6L573.29 98.06L573.49 98.32L573.68 98.19L573.88 98.85L574.08 98.43L574.27 98.86L574.47 98.41L574.67 100.7L574.86 98.56L575.06 98.82L575.25 98.77L575.45 99.07L575.65 98.79L575.84 99.35L576.04 99.04L576.23 99.56L576.43 99.34L576.63 99.94L576.82 99.44L577.02 99.88L577.22 99.26L577.41 99.89L577.61 99.66L577.8 100.13L578 99.9L578.2 99.7L578.39 100.08L578.59 99.83L578.79 100.61L578.98 99.79L579.18 100.2L579.38 99.8L579.58 100.17L579.77 100.02L579.97 100.39L580.17 99.99L580.36 101.24L580.56 100.42L580.76 101.09L580.95 100.6L581.15 100.88L581.35 100.59L581.54 101.17L581.74 100.8L581.94 101.1L582.13 100.83L582.33 101.44L582.53 101L582.72 101.81L582.92 101.35L583.12 101.95L583.32 101.28L583.51 101.68L583.71 101.43L583.91 101.71L584.1 101.46L584.3 101.9L584.5 102.15L584.69 101.52L584.89 101.95L585.08 101.62L585.28 102.09L585.47 101.71L585.67 102.15L585.87 101.69L586.06 102.15L586.26 101.88L586.45 103.48L586.65 101.91L586.85 102.27L587.04 101.97L587.24 102.35L587.43 102.03L587.63 102.59L587.83 102.14L588.02 102.58L588.22 102.45L588.41 102.97L588.61 102.37L588.8 102.92L589 102.8L589.2 102.32L589.39 104.32L589.59 102.18L589.78 102.85L589.98 102.56L590.18 103.09L590.37 102.55L590.57 103.31L590.76 102.7L590.96 103.5L591.16 102.85L591.35 103.61L591.55 102.73L591.74 102.97L591.94 102.64L592.14 103.07L592.33 102.93L592.53 103.85L592.72 103L592.92 103.48L593.12 102.87L593.31 103.57L593.51 102.89L593.7 103.35L593.9 103.2L594.1 103.14L594.29 103.66L594.49 103.1L594.68 103.44L594.88 102.65L595.08 103.52L595.27 102.71L595.47 103.2L595.67 102.63L595.86 103.1L596.06 102.87L596.25 103.2L596.45 102.56L596.65 103.94L596.84 102.83L597.04 103.35L597.23 103L597.43 103.18L597.63 102.89L597.82 103.24L598.02 102.51L598.22 103.13L598.41 102.58L598.61 103.08L598.8 102.49L599 102.5L599.2 102.9L599.4 102.29L599.6 102.94L599.8 102.09L600 103.15L600.2 102.15L600.4 102.41L600.6 102.01L600.8 102.26L601 102.02L601.2 102.59L601.4 101.56L601.6 102.08L601.8 101.78L602 102.52L602.2 101.64L602.4 101.86L602.6 101.26L602.8 101.8L603 101.42L603.2 102.08L603.4 101.3L603.59 100.79L603.78 101.35L603.97 100.94L604.16 101.37L604.35 100.81L604.54 101.3L604.73 100.31L604.92 101.01L605.11 100.3L605.29 100.72L605.48 100.21L605.67 100.54L605.86 99.91L606.05 100.33L606.24 100.04L606.43 100.1L606.62 99.8L606.81 100.29L607 99.6L607.19 99.43L607.38 99.99L607.57 99.22L607.76 99.36L607.95 99.12L608.14 99.46L608.33 98.92L608.52 99L608.71 98.48L608.9 99.1L609.1 98.37L609.29 98.53L609.48 98.17L609.67 98.5L609.86 98L610.05 98.1L610.24 97.74L610.43 98.27L610.62 97.56L610.81 97.83L611 97.5L611.2 97.5L611.4 98.04L611.6 97.81L611.8 98.22L612 98.03L612.2 98.78L612.4 98.19L612.6 98.78L612.8 98.5L612.98 98.57L613.16 98.97L613.33 98.92L613.51 99.58L613.69 99.19L613.87 99.79L614.04 99.52L614.22 100.12L614.4 100L614.59 99.82L614.77 99.92L614.96 99.64L615.14 99.88L615.33 99.51L615.51 99.86L615.7 99.32L615.89 99.66L616.07 99.19L616.26 99.55L616.44 99.09L616.63 99.55L616.81 98.95L617 99L617.19 99.19L617.37 98.75L617.56 99.22L617.74 98.52L617.93 98.75L618.11 98.62L618.3 99L618.49 98.48L618.67 98.56L618.86 98.29L619.04 98.43L619.23 97.98L619.41 98.35L619.6 98L619.8 98.16L620 98.91L620.2 99.05L620.4 99.59L620.6 99.49L620.8 100.52L621 100.5L621.2 100.93L621.4 101.84L621.6 101.89L621.8 102.75L622 102.88L622.2 104L622.4 104.1L622.59 104.12L622.78 105.41L622.97 105.54L623.16 107.06L623.35 106.36L623.54 107.62L623.73 107.67L623.92 108.52L624.11 108.5L624.3 109.2L624.49 109.47L624.67 109.17L624.86 109.49L625.04 109.28L625.23 110.03L625.41 109.99L625.6 110.3L625.8 111.34L626 110.86L626.2 111.49L626.4 111.48L626.6 112.28L626.8 112.11L627 113.18L627.2 113.19L627.4 114.1L627.6 113.83L627.8 114.4L627.99 115.12L628.19 114.56L628.38 115.13L628.57 115.11L628.76 115.64L628.96 115.66L629.15 117.03L629.34 116.01L629.54 117.03L629.73 116.67L629.92 117.75L630.11 116.94L630.31 117.97L630.5 118L630.7 117.41L630.9 117.89L631.1 116.87L631.3 116.99L631.5 116.17L631.7 116.61L631.9 115.41L632.1 115.56L632.3 115.2L632.49 114.58L632.69 115.1L632.88 113.88L633.08 114.58L633.27 113.55L633.47 113.87L633.66 112.75L633.86 112.96L634.05 112.21L634.24 112.47L634.44 111.49L634.63 111.47L634.83 110.79L635.02 110.63L635.22 110L635.41 109.97L635.61 109.36L635.8 109L635.99 109.27L636.19 107.98L636.38 107.83L636.57 107.2L636.76 106.79L636.96 106.11L637.15 106.08L637.34 105.23L637.54 104.99L637.73 104.18L637.92 104.28L638.11 103.25L638.31 103.13L638.5 102.5L638.68 101.95L638.86 101.65L639.05 100.83L639.23 100.47L639.41 99.66L639.59 99.2L639.77 98.53L639.95 98.07L640.14 97.4L640.32 97.01L640.5 96.3L640.69 95.54L640.88 94.88L641.07 94.03L641.26 93.34L641.44 92.51L641.63 91.91L641.82 90.99L642.01 90.25L642.2 89.5L643.2 84L643.7 81.5L644.3 90L644.47 94.64L644.63 99.39L644.8 103.96L644.97 108.8L645.13 113.3L645.3 118L645.47 120.71L645.63 122.95L645.8 125.94L645.97 127.65L646.13 130.77L646.3 133L646.47 134.23L646.65 137.55L646.83 138.46L647 141L647.2 143.19L647.4 145L647.7 149.14L648 141.79L648.3 155.27L648.6 148.23L648.9 148.95L649.2 142.39L649.5 150.39L649.8 155.08L650.1 150.36L650.4 149.05L650.7 151.12L651 146L651.3 150.67L651.6 144.21L651.9 153.68L652.2 153.38L652.5 151.66L652.8 151.86L653.1 150.78L653.4 144.12L653.7 144.97L654 150.64L654.3 145.42L654.6 145.27L654.9 144.6L655.2 152.06L655.5 150.42L655.8 153.05L656.1 157.75L656.4 151.28L656.7 146.81L657 151.19L657.3 153.9L657.6 156.55L657.9 149.73L658.2 153.51L658.5 145.25L658.8 146.23L658.9 147.8L658.9 174.4Z" fill="#7E2F8E" stroke="#000" stroke-width="0.8" stroke-linejoin="round"/>
<line x1="643.7" y1="47.5" x2="643.7" y2="172.4" stroke="#000" stroke-opacity="0.5" stroke-width="0.7"/>
</g>
<rect x="532.4" y="47.5" width="126.4" height="124.9" fill="none" stroke="#262626" stroke-width="0.58"/>
<path d="M532.4 47.5h1.3M658.8 47.5h-1.3M532.4 72.48h1.3M658.8 72.48h-1.3M532.4 97.46h1.3M658.8 97.46h-1.3M532.4 122.44h1.3M658.8 122.44h-1.3M532.4 147.42h1.3M658.8 147.42h-1.3M532.4 172.4h1.3M658.8 172.4h-1.3M532.4 172.4v-1.3M532.4 47.5v1.3M566.1 172.4v-1.3M566.1 47.5v1.3M599.8 172.4v-1.3M599.8 47.5v1.3M633.5 172.4v-1.3M633.5 47.5v1.3" stroke="#262626" stroke-width="0.5" fill="none"/>
<text x="529.4" y="50.95" text-anchor="end" class="t">10<tspan dy="-3.6" font-size="5.8">-1</tspan></text>
<text x="529.4" y="76.11" text-anchor="end" class="t">10<tspan dy="-3.6" font-size="5.8">-2</tspan></text>
<text x="529.4" y="101.27" text-anchor="end" class="t">10<tspan dy="-3.6" font-size="5.8">-3</tspan></text>
<text x="529.4" y="126.43" text-anchor="end" class="t">10<tspan dy="-3.6" font-size="5.8">-4</tspan></text>
<text x="529.4" y="151.59" text-anchor="end" class="t">10<tspan dy="-3.6" font-size="5.8">-5</tspan></text>
<text x="529.4" y="176.75" text-anchor="end" class="t">10<tspan dy="-3.6" font-size="5.8">-6</tspan></text>
<text x="532.4" y="182.9" text-anchor="middle" class="t">0</text>
<text x="566.1" y="182.9" text-anchor="middle" class="t">200</text>
<text x="599.8" y="182.9" text-anchor="middle" class="t">400</text>
<text x="633.5" y="182.9" text-anchor="middle" class="t">600</text>
<text x="595.6" y="193" text-anchor="middle" class="l">Energy [keV]</text>
<text transform="translate(511.1 110.65) rotate(-90)" text-anchor="middle" class="l">Counts [a.u.]</text>
<text x="595.6" y="43" text-anchor="middle" class="h"><tspan dy="-4.9" font-size="8.6">137</tspan><tspan dy="4.9">Cs</tspan></text>
<rect x="586.4" y="52.5" width="66.4" height="10.3" fill="#fff" stroke="#555" stroke-width="0.5"/>
<rect x="588" y="54.9" width="21.5" height="6.6" fill="#7E2F8E" stroke="#222" stroke-width="0.4"/>
<text x="611.1" y="59.9" class="g">FWHM =1.7%</text>
</g>
<g>
<clipPath id="c5"><rect x="27.6" y="224.55" width="125.9" height="124.9"/></clipPath>
<g clip-path="url(#c5)">
<path d="M27.7 351.45L27.7 349.5L27.9 257L28.3 258.5L28.8 264.5L29.3 270L29.8 261L30.4 247.8L31.2 262L31.8 270L33.1 281L34 280L34.6 279.2L35.3 281L36 281L36.6 270L37.1 256.4L37.6 272L38.4 283.5L39.6 284.5L40.4 284L41.2 286.5L42.3 288.7L44 290.4L46 292L47.4 292.3L47.9 288L48.3 281.9L48.8 288L49.9 293.3L50.09 293.38L50.28 293.49L50.47 293.58L50.66 293.74L50.85 293.72L51.05 293.91L51.24 293.93L51.43 294.21L51.62 294.09L51.81 294.27L52 294.3L52.19 294.34L52.37 294.49L52.56 294.44L52.74 294.62L52.93 294.55L53.11 294.88L53.3 294.73L53.49 295L53.67 294.86L53.86 295.03L54.04 294.92L54.23 295.08L54.41 295.02L54.6 295.2L54.8 295.12L55 294.88L55.2 294.91L55.4 294.75L55.6 294.72L55.8 294.5L56 294.5L56.15 292.95L56.3 291.24L56.45 289.64L56.6 288L57.1 278.6L57.7 288L57.89 289.15L58.07 290.33L58.26 291.42L58.44 292.71L58.63 293.75L58.81 295.02L59 296.1L59.18 296.13L59.36 296.45L59.55 296.25L59.73 296.53L59.91 296.5L60.09 296.73L60.27 296.51L60.45 296.79L60.64 296.72L60.82 297.05L61 296.9L61.19 296.66L61.38 297.19L61.56 296.9L61.75 297.15L61.94 296.68L62.12 297.03L62.31 296.85L62.5 297L62.67 296.02L62.85 294.57L63.03 293.92L63.2 292.5L63.4 293.91L63.6 295.58L63.8 297L63.97 296.89L64.15 297.1L64.33 296.85L64.5 297L64.7 295.8L64.9 294.02L65.1 292.7L65.27 294.05L65.45 295.01L65.62 296.35L65.8 297.3L65.97 297.33L66.14 297.74L66.31 297.65L66.49 298.07L66.66 297.82L66.83 298.03L67 298L67.19 297.94L67.38 298.24L67.58 297.9L67.77 298.19L67.96 298.13L68.15 298.24L68.35 298.02L68.54 298.39L68.73 297.96L68.92 298.44L69.12 298.02L69.31 298.51L69.5 298.14L69.69 298.41L69.88 298.11L70.08 298.86L70.27 298.23L70.46 298.53L70.65 298.23L70.85 298.51L71.04 298.24L71.23 298.62L71.42 298.28L71.62 298.79L71.81 298.31L72 298.2L72.19 298.87L72.38 298.24L72.57 298.52L72.76 298.01L72.95 298.55L73.14 298.3L73.33 298.57L73.52 298.23L73.71 298.59L73.9 298.21L74.1 298.41L74.29 298.21L74.48 298.51L74.67 298.16L74.86 298.37L75.05 298.16L75.24 298.41L75.43 298.05L75.62 298.26L75.81 298.06L76 298.1L76.19 298.44L76.38 298.07L76.57 298.58L76.76 298.04L76.95 298.86L77.14 298.07L77.33 298.35L77.52 298.07L77.71 298.31L77.9 298.01L78.1 298.68L78.29 298.1L78.48 298.42L78.67 298.22L78.86 298.42L79.05 298.19L79.24 298.5L79.43 298.13L79.62 298.92L79.81 298.01L80 298.2L80.2 298.4L80.39 298.03L80.59 298.28L80.78 298.01L80.98 298.53L81.17 297.89L81.37 298.67L81.56 298.11L81.76 298.34L81.95 298.09L82.15 298.28L82.34 298.07L82.54 298.41L82.73 297.93L82.93 298.39L83.12 297.78L83.32 298.14L83.51 297.98L83.71 298.32L83.9 297.76L84.1 298L84.29 298.25L84.49 297.85L84.69 298.3L84.88 297.98L85.07 298.11L85.27 297.94L85.47 298.15L85.66 297.8L85.85 298.18L86.05 297.8L86.25 298.03L86.44 297.56L86.63 297.81L86.83 297.56L87.03 297.81L87.22 297.37L87.41 297.58L87.61 297.2L87.81 297.4L88 297.3L88.19 296.93L88.38 297.17L88.58 296.88L88.77 296.96L88.96 296.83L89.15 297.1L89.34 296.71L89.53 296.95L89.72 296.45L89.92 297.14L90.11 296.65L90.3 296.8L90.48 296.63L90.67 296.04L90.85 296.13L91.03 295.36L91.22 295.78L91.4 295L91.6 295.7L91.8 296.8L92 297.5L92.17 297.87L92.35 299.02L92.53 299.19L92.7 300L92.89 300.21L93.09 299.74L93.28 300.2L93.48 299.99L93.67 300.52L93.86 300.3L94.06 300.63L94.25 300.39L94.45 300.89L94.64 300.51L94.84 301.04L95.03 300.75L95.22 300.98L95.42 300.46L95.61 301.14L95.81 300.9L96 301L96.19 301.42L96.38 300.96L96.57 301.64L96.76 301.16L96.94 301.63L97.13 301.08L97.32 301.37L97.51 301.19L97.7 301.97L97.89 301.09L98.08 301.64L98.27 301.2L98.46 301.95L98.64 301.37L98.83 301.76L99.02 301.74L99.21 302.4L99.4 301.9L99.6 301.81L99.8 302.19L100 301.95L100.2 302.34L100.4 302.01L100.6 302.47L100.8 302.36L101 302.87L101.2 302.69L101.4 303.01L101.6 302.82L101.8 303.18L102 303.2L102.19 303.02L102.39 303.38L102.58 303.2L102.78 303.6L102.97 303.38L103.16 303.9L103.36 303.67L103.55 304L103.74 303.79L103.94 304.44L104.13 304.18L104.32 304.8L104.52 304.3L104.71 305.07L104.91 304.35L105.1 304.7L105.28 304.98L105.47 304.34L105.65 304.87L105.83 304.03L106.02 304.24L106.2 304L106.4 302.81L106.6 302.64L106.8 301.08L107 300.3L107.2 301.62L107.4 302.11L107.6 303.44L107.8 304.5L107.98 304.62L108.17 305.21L108.35 305.21L108.53 306.21L108.72 305.91L108.9 306.6L109.1 306.99L109.3 306.19L109.5 306.79L109.7 306.36L109.9 306.87L110.1 306.39L110.3 307.08L110.5 306.83L110.7 307.95L110.9 306.98L111.1 307.74L111.3 307.06L111.5 307.48L111.7 306.46L111.9 307.54L112.1 307.14L112.3 307.82L112.5 307.16L112.7 307.5L112.9 307.44L113.1 306.83L113.3 307.08L113.5 306.48L113.7 306.72L113.9 306.21L114.1 306.61L114.3 306.02L114.5 306.83L114.7 305.85L114.9 306.15L115.1 305.31L115.3 306.01L115.5 305.5L115.69 304.82L115.89 305.24L116.08 304.86L116.27 304.84L116.47 304.45L116.66 305.09L116.85 303.88L117.05 304L117.24 303.52L117.43 304.24L117.63 303.11L117.82 303.3L118.01 302.79L118.21 303.16L118.4 302.8L118.6 302.61L118.8 302.91L119 302.26L119.2 302.7L119.4 302.11L119.6 302.2L119.77 302.14L119.95 301.63L120.12 302.04L120.3 301.4L120.47 302.02L120.65 303.33L120.83 302.82L121 304L121.17 304.81L121.34 304.65L121.51 305.95L121.69 305.55L121.86 306.59L122.03 306.92L122.2 307.6L122.4 308.65L122.6 307.7L122.8 308.71L123 308.28L123.2 309.36L123.4 308.56L123.6 309.38L123.8 308.88L124 309.87L124.2 309.45L124.4 310.37L124.6 309.84L124.8 310.41L125 309.52L125.2 311.25L125.4 310.62L125.6 311.3L125.8 310.46L126 311.4L126.19 311.94L126.38 311.38L126.58 312.6L126.77 311.69L126.96 312.61L127.15 312.44L127.35 313.2L127.54 312.96L127.73 313.6L127.92 313.27L128.12 314L128.31 314.01L128.5 314.8L128.69 315.77L128.88 314.81L129.07 316.1L129.27 315.44L129.46 316.61L129.65 316.12L129.84 317.19L130.03 316.75L130.23 317.93L130.42 316.9L130.61 318.79L130.8 318L130.99 318.45L131.19 319.62L131.38 319.05L131.57 319.89L131.77 319.27L131.96 320.4L132.15 319.95L132.35 321.38L132.54 320.74L132.73 321.88L132.93 321.65L133.12 322.73L133.31 321.83L133.51 322.77L133.7 321.9L133.88 322.28L134.06 323.38L134.24 322.05L134.42 322.53L134.6 321.15L134.78 323.25L134.96 321.12L135.14 323.26L135.32 320.37L135.5 320.6L135.68 321.68L135.86 320.28L136.05 321.8L136.23 320.22L136.41 321.06L136.59 320.21L136.77 321.21L136.95 319.83L137.14 320.67L137.32 319.42L137.5 320L137.69 321.6L137.88 320.61L138.07 321.29L138.26 320.63L138.45 322.25L138.64 320.74L138.83 322.05L139.02 321.33L139.21 323.2L139.4 322.8L139.59 322.26L139.78 322.8L139.97 321.13L140.16 322.55L140.35 321.16L140.54 321.61L140.73 320.65L140.92 320.97L141.11 320.03L141.3 320L141.49 320.15L141.68 318.31L141.87 319.39L142.06 318.35L142.25 318.61L142.44 317.61L142.63 318.04L142.82 317.11L143.01 317.42L143.2 317.1L143.38 315.82L143.56 316.13L143.75 314.8L143.93 315.74L144.11 314.59L144.29 314.62L144.47 314L144.65 314.5L144.84 313.24L145.02 313.77L145.2 313.2L145.38 312.37L145.56 312.41L145.74 311.74L145.92 311.65L146.1 310.99L146.28 311.19L146.46 310.14L146.64 310.14L146.82 309.51L147 309.5L147.18 311.42L147.36 311.79L147.54 313.49L147.72 314.04L147.9 316L148.07 317.84L148.23 318.98L148.4 321.6L148.57 322.61L148.73 325.58L148.9 326.6L149.08 326.54L149.25 328.75L149.43 327.53L149.6 330.13L149.78 329.16L149.95 333.13L150.12 330.27L150.3 331.5L150.49 332.97L150.68 331.4L150.86 335.19L151.05 332.68L151.24 337.58L151.43 335.34L151.61 338.82L151.8 336.1L151.97 337.35L152.13 339.64L152.3 338.84L152.47 342.26L152.63 338.47L152.8 340.5L152.98 344.39L153.16 342.87L153.34 345.31L153.52 343.86L153.7 345.7L153.83 349.16L153.97 345.68L154.1 348L154.1 351.45Z" fill="#77AC30" stroke="#000" stroke-width="0.8" stroke-linejoin="round"/>
<line x1="37.3" y1="224.55" x2="37.3" y2="349.45" stroke="#000" stroke-opacity="0.5" stroke-width="0.7"/>
</g>
<rect x="27.6" y="224.55" width="125.9" height="124.9" fill="none" stroke="#262626" stroke-width="0.58"/>
<path d="M27.6 224.55h1.3M153.5 224.55h-1.3M27.6 264.23h1.3M153.5 264.23h-1.3M27.6 303.92h1.3M153.5 303.92h-1.3M27.6 343.6h1.3M153.5 343.6h-1.3M27.6 349.45v-1.3M27.6 224.55v1.3M69.6 349.45v-1.3M69.6 224.55v1.3M111.5 349.45v-1.3M111.5 224.55v1.3M153.5 349.45v-1.3M153.5 224.55v1.3" stroke="#262626" stroke-width="0.5" fill="none"/>
<text x="24.6" y="228" text-anchor="end" class="t">10<tspan dy="-3.6" font-size="5.8">0</tspan></text>
<text x="24.6" y="267.97" text-anchor="end" class="t">10<tspan dy="-3.6" font-size="5.8">-2</tspan></text>
<text x="24.6" y="307.94" text-anchor="end" class="t">10<tspan dy="-3.6" font-size="5.8">-4</tspan></text>
<text x="24.6" y="347.91" text-anchor="end" class="t">10<tspan dy="-3.6" font-size="5.8">-6</tspan></text>
<text x="27.6" y="359.95" text-anchor="middle" class="t">0</text>
<text x="69.6" y="359.95" text-anchor="middle" class="t">500</text>
<text x="111.5" y="359.95" text-anchor="middle" class="t">1000</text>
<text x="153.5" y="359.95" text-anchor="middle" class="t">1500</text>
<text x="90.55" y="370.05" text-anchor="middle" class="l">Energy [keV]</text>
<text transform="translate(6.3 287.7) rotate(-90)" text-anchor="middle" class="l">Counts [a.u.]</text>
<text x="90.55" y="220.05" text-anchor="middle" class="h"><tspan dy="-4.9" font-size="8.6">152</tspan><tspan dy="4.9">Eu</tspan></text>
<rect x="86.6" y="229.55" width="61.4" height="10.3" fill="#fff" stroke="#555" stroke-width="0.5"/>
<rect x="88.2" y="231.95" width="21.5" height="6.6" fill="#77AC30" stroke="#222" stroke-width="0.4"/>
<text x="111.3" y="236.95" class="g">FWHM =4%</text>
</g>
<g>
<clipPath id="c6"><rect x="195.6" y="224.55" width="126.3" height="124.9"/></clipPath>
<g clip-path="url(#c6)">
<path d="M195.7 351.45L195.7 349.5L195.9 238L196.05 236.96L196.2 236L196.35 238.77L196.5 240.59L196.65 243.67L196.8 246L196.97 247.74L197.13 250.57L197.3 252.6L197.48 252.98L197.66 254.53L197.84 254.11L198.02 255.3L198.2 256L198.38 256.2L198.55 256.91L198.72 256.72L198.9 257.6L199.1 259.16L199.3 260.1L199.5 261.84L199.7 263L199.87 263.62L200.03 264.88L200.2 265.25L200.37 266.39L200.53 266.71L200.7 267.6L200.89 267.98L201.07 267.97L201.26 268.34L201.44 268.37L201.63 268.93L201.81 268.61L202 269L202.2 269.19L202.4 269.03L202.6 269.42L202.8 269.13L203 269.66L203.2 269.55L203.4 269.77L203.6 269.7L203.78 269.66L203.97 269.98L204.15 269.66L204.34 270.07L204.52 269.84L204.71 270.07L204.89 269.83L205.08 270.29L205.26 269.86L205.45 270.18L205.63 269.99L205.82 270.22L206 270L206.19 269.84L206.38 270.56L206.56 269.76L206.75 270.13L206.94 269.75L207.12 270.14L207.31 269.7L207.5 269.8L207.69 269.97L207.88 269.57L208.06 269.6L208.25 269.21L208.44 269.28L208.62 269.01L208.81 269.1L209 269L209.2 268.8L209.4 268.94L209.6 268.68L209.8 268.82L210 268.54L210.2 268.6L210.38 268.77L210.55 268.77L210.72 269.08L210.9 268.94L211.07 269.27L211.25 269.2L211.42 269.6L211.6 269.5L211.78 269.57L211.97 270.21L212.15 270.26L212.34 270.89L212.52 270.77L212.71 271.07L212.89 271.01L213.08 271.55L213.26 271.58L213.45 272.39L213.63 271.88L213.82 272.51L214 272.6L214.19 272.72L214.38 273.2L214.56 272.97L214.75 273.47L214.94 273.25L215.12 273.68L215.31 273.27L215.5 273.75L215.69 273.8L215.88 274.18L216.06 274.08L216.25 274.77L216.44 274.13L216.62 274.62L216.81 274.37L217 274.6L217.19 274.96L217.37 274.79L217.56 275.3L217.75 275.04L217.93 275.39L218.12 275.31L218.31 275.53L218.49 275.42L218.68 276.01L218.87 275.64L219.05 275.93L219.24 275.82L219.43 276.11L219.61 275.95L219.8 276.2L219.99 276.36L220.19 276.22L220.38 277.08L220.57 276.32L220.76 276.76L220.96 276.57L221.15 276.78L221.34 276.71L221.54 277.27L221.73 276.8L221.92 277.18L222.11 277.03L222.31 277.34L222.5 277.2L222.69 277.34L222.88 277.83L223.07 277.42L223.26 278.01L223.45 277.71L223.65 278.16L223.84 277.74L224.03 278.31L224.22 278.14L224.41 278.49L224.6 278.3L224.78 278.59L224.96 278.98L225.14 278.97L225.32 279.66L225.5 279.49L225.68 279.95L225.86 279.94L226.04 280.45L226.22 280.47L226.4 280.8L226.59 281.15L226.78 281.29L226.97 281.79L227.16 281.85L227.35 282.41L227.54 282.49L227.73 283.28L227.92 282.92L228.11 283.73L228.3 284L228.48 283.99L228.66 284.38L228.85 284.49L229.03 285.18L229.21 285.08L229.39 285.4L229.57 285.52L229.75 285.99L229.94 285.82L230.12 286.68L230.3 286.6L230.48 286.47L230.66 286.93L230.85 286.93L231.03 287.29L231.21 286.91L231.39 287.22L231.57 287.12L231.75 287.87L231.94 287.35L232.12 287.73L232.3 287.7L232.49 287.24L232.68 287.39L232.87 287.13L233.06 287.25L233.25 286.89L233.44 286.95L233.63 286.67L233.82 286.8L234.01 286.47L234.2 286.5L234.38 286.32L234.56 285.7L234.75 285.61L234.93 285.06L235.11 284.88L235.29 284.36L235.47 284.41L235.65 283.79L235.84 283.58L236.02 283.1L236.2 282.8L236.38 282.36L236.56 281.67L236.73 281.35L236.91 280.53L237.09 280.14L237.27 279.43L237.44 279L237.62 278.3L237.8 277.8L238 277.05L238.2 276.18L238.4 275.44L238.6 274.61L238.8 273.82L239 273L239.2 272.2L240.6 262L241.5 251L241.9 247.8L242.3 252L242.7 272L242.85 280.64L243 289L243.13 290.14L243.27 291.89L243.4 292.2L243.6 291.95L243.8 293.49L244 292L244.2 292.49L244.4 291.62L244.6 292.91L244.8 291.92L245 293.17L245.2 291.9L245.4 292.96L245.6 292.07L245.8 293.27L246 292.13L246.2 294.1L246.4 292.44L246.6 293.06L246.8 292.46L247 293.41L247.2 292.18L247.4 294.14L247.6 292.27L247.8 292.99L248 292.78L248.2 293.53L248.4 292.68L248.6 293.45L248.8 292.51L249 294.01L249.2 292.98L249.4 294.51L249.6 292.5L249.8 293.76L250 292.8L250.2 293.03L250.39 293.96L250.59 292.77L250.78 294.22L250.98 292.32L251.18 293.83L251.37 292.68L251.57 293.16L251.76 292.63L251.96 293.19L252.16 292.38L252.35 293.15L252.55 292.53L252.75 294.45L252.94 292.27L253.14 294.49L253.33 292.53L253.53 293.29L253.73 292.26L253.92 293.24L254.12 292.63L254.31 294.65L254.51 292.27L254.71 293.25L254.9 292.85L255.1 293.43L255.29 292.05L255.49 294.11L255.69 292.63L255.88 294.48L256.08 292.57L256.27 294.44L256.47 292.62L256.67 294.04L256.86 292.88L257.06 294.23L257.25 292.59L257.45 293.69L257.65 292.26L257.84 293.81L258.04 292.8L258.24 293.82L258.43 292.16L258.63 293.11L258.82 292.64L259.02 293.76L259.22 292.34L259.41 296.44L259.61 291.95L259.8 293.89L260 292.6L260.2 292.69L260.39 293.89L260.59 291.83L260.78 294.32L260.98 292.32L261.18 293.52L261.37 292.86L261.57 293.75L261.76 292.47L261.96 293.33L262.16 292.65L262.35 293.52L262.55 291.63L262.75 293.17L262.94 292.17L263.14 293.46L263.33 292.21L263.53 293.43L263.73 292.32L263.92 293.17L264.12 291.86L264.31 293.44L264.51 292.14L264.71 293.49L264.9 291.94L265.1 293.59L265.29 292.18L265.49 294.35L265.69 292.45L265.88 293.86L266.08 292.22L266.27 292.96L266.47 291.81L266.67 293.81L266.86 292.5L267.06 294.45L267.25 292.03L267.45 293.78L267.65 292.77L267.84 293.82L268.04 292.53L268.24 293.45L268.43 292.29L268.63 293.55L268.82 292.36L269.02 293.22L269.22 292.05L269.41 293.8L269.61 292.64L269.8 293.66L270 293L270.2 291.86L270.39 293.41L270.59 292.71L270.78 293.33L270.98 292.17L271.18 293.23L271.37 292.13L271.57 294.32L271.76 292.27L271.96 293.3L272.16 292.23L272.35 292.57L272.55 292.02L272.75 293.55L272.94 292.19L273.14 292.8L273.33 292.56L273.53 293.28L273.73 292.04L273.92 293.44L274.12 292.02L274.31 293.7L274.51 292.42L274.71 293.64L274.9 292.42L275.1 293.89L275.29 292.28L275.49 293.13L275.69 291.78L275.88 293.18L276.08 292.33L276.27 293.64L276.47 291.71L276.67 294.51L276.86 292.9L277.06 293.52L277.25 292.4L277.45 293.43L277.65 292.87L277.84 294.43L278.04 292.14L278.24 293.93L278.43 292.86L278.63 293.68L278.82 292.26L279.02 293.48L279.22 291.94L279.41 294.43L279.61 292.54L279.8 293.92L280 292.8L280.2 291.59L280.4 294.45L280.59 292.44L280.79 293.21L280.99 292.24L281.19 292.96L281.39 292.35L281.58 293.14L281.78 291.66L281.98 294.35L282.18 292.11L282.37 293.55L282.57 292.63L282.77 293.86L282.97 292.64L283.17 293.82L283.36 292.25L283.56 293.07L283.76 292.53L283.96 293.12L284.16 292.12L284.35 293.87L284.55 293.31L284.75 295.02L284.95 293.15L285.14 293.73L285.34 292.82L285.54 294.13L285.74 292.27L285.94 293.36L286.13 292.49L286.33 292.78L286.53 292L286.73 292.98L286.93 291.36L287.12 292.66L287.32 291.98L287.52 292.8L287.72 291.52L287.91 292.19L288.11 291.57L288.31 292.12L288.51 291.14L288.71 292.93L288.9 291.74L289.1 292.69L289.3 292.6L289.48 292.26L289.67 293.28L289.85 292.46L290.03 294.47L290.22 292.85L290.4 294L290.58 295.05L290.77 293.34L290.95 296.11L291.13 295.72L291.32 297.47L291.5 297.3L291.69 297.46L291.87 299.39L292.06 298.47L292.24 299.66L292.43 299.27L292.61 301.41L292.8 301.8L293 300.44L293.2 304.4L293.4 303.12L293.6 304.83L293.8 303.65L294 305L294.19 305.94L294.38 304.81L294.58 306.29L294.77 304.86L294.96 306.56L295.15 305.42L295.35 306.59L295.54 305.37L295.73 308.32L295.92 306.23L296.12 308.37L296.31 305.87L296.5 307.3L296.7 309.31L296.9 305.77L297.1 308.62L297.3 305.89L297.5 308.13L297.7 306.09L297.9 308.12L298.1 306.41L298.3 308.5L298.5 306.82L298.7 307.79L298.9 308.2L299.09 306.29L299.28 310.26L299.47 305.72L299.66 307.23L299.85 305.25L300.05 309.53L300.24 304.6L300.43 308.21L300.62 305.33L300.81 306.17L301 306.8L301.2 303.34L301.4 304.59L301.6 303.63L301.8 304.5L302 303.6L302.2 303.96L302.4 302.19L302.6 303.75L302.8 303.06L303 304.39L303.2 303.9L303.39 301.81L303.58 303.25L303.77 301.46L303.97 302.53L304.16 300.53L304.35 301.69L304.54 300.56L304.73 302.29L304.93 299.13L305.12 300.87L305.31 299.32L305.5 300.4L305.68 301.16L305.86 298.6L306.05 300.07L306.23 298.5L306.41 298.94L306.59 297.93L306.77 300.09L306.95 297.11L307.14 297.98L307.32 296.46L307.5 297L307.68 296.71L307.86 295.43L308.04 296.04L308.22 294.77L308.4 295.3L308.58 294.28L308.76 295.01L308.94 293.33L309.12 293.61L309.3 293L309.49 291.89L309.68 291.79L309.86 290.85L310.05 290.83L310.24 289.89L310.43 289.74L310.61 288.76L310.8 288.8L310.99 288.31L311.17 287.23L311.36 287.26L311.54 286.26L311.73 286.31L311.91 284.99L312.1 284.9L312.3 287.31L312.5 289.36L312.7 292L312.86 294.92L313.02 297.14L313.18 300.62L313.34 302.31L313.5 306L313.66 308.09L313.82 308.34L313.98 314.23L314.14 313.82L314.3 318L314.48 321.72L314.65 317.65L314.82 322.79L315 323L315.2 321.28L315.4 325.28L315.6 321.87L315.8 323.76L316 321.37L316.2 325L316.38 325.11L316.56 324.04L316.74 328.18L316.92 326.33L317.1 335.99L317.28 321.23L317.46 328.45L317.64 322.25L317.82 335.8L318 326.5L318.18 326.97L318.36 337.75L318.55 323.97L318.73 340.24L318.91 329.44L319.09 331.37L319.27 329.36L319.45 337.8L319.64 329.3L319.82 336.52L320 328.3L320.19 330.12L320.38 337.41L320.57 331.5L320.76 335.53L320.95 330.01L321.15 335.93L321.34 328.68L321.53 337.97L321.72 325.14L321.91 333.1L322.1 329.5L322.1 351.45Z" fill="#4DBEEE" stroke="#000" stroke-width="0.8" stroke-linejoin="round"/>
<line x1="241.9" y1="224.55" x2="241.9" y2="349.45" stroke="#000" stroke-opacity="0.5" stroke-width="0.7"/>
</g>
<rect x="195.6" y="224.55" width="126.3" height="124.9" fill="none" stroke="#262626" stroke-width="0.58"/>
<path d="M195.6 224.55h1.3M321.9 224.55h-1.3M195.6 249.53h1.3M321.9 249.53h-1.3M195.6 274.51h1.3M321.9 274.51h-1.3M195.6 299.49h1.3M321.9 299.49h-1.3M195.6 324.47h1.3M321.9 324.47h-1.3M195.6 349.45h1.3M321.9 349.45h-1.3M195.6 349.45v-1.3M195.6 224.55v1.3M240.7 349.45v-1.3M240.7 224.55v1.3M285.8 349.45v-1.3M285.8 224.55v1.3" stroke="#262626" stroke-width="0.5" fill="none"/>
<text x="192.6" y="228" text-anchor="end" class="t">10<tspan dy="-3.6" font-size="5.8">-1</tspan></text>
<text x="192.6" y="253.16" text-anchor="end" class="t">10<tspan dy="-3.6" font-size="5.8">-2</tspan></text>
<text x="192.6" y="278.32" text-anchor="end" class="t">10<tspan dy="-3.6" font-size="5.8">-3</tspan></text>
<text x="192.6" y="303.48" text-anchor="end" class="t">10<tspan dy="-3.6" font-size="5.8">-4</tspan></text>
<text x="192.6" y="328.64" text-anchor="end" class="t">10<tspan dy="-3.6" font-size="5.8">-5</tspan></text>
<text x="192.6" y="353.8" text-anchor="end" class="t">10<tspan dy="-3.6" font-size="5.8">-6</tspan></text>
<text x="195.6" y="359.95" text-anchor="middle" class="t">0</text>
<text x="240.7" y="359.95" text-anchor="middle" class="t">500</text>
<text x="285.8" y="359.95" text-anchor="middle" class="t">1000</text>
<text x="258.75" y="370.05" text-anchor="middle" class="l">Energy [keV]</text>
<text transform="translate(174.3 287.7) rotate(-90)" text-anchor="middle" class="l">Counts [a.u.]</text>
<text x="258.75" y="220.05" text-anchor="middle" class="h"><tspan dy="-4.9" font-size="8.6">22</tspan><tspan dy="4.9">Na</tspan></text>
<rect x="249.6" y="229.55" width="66.4" height="10.3" fill="#fff" stroke="#555" stroke-width="0.5"/>
<rect x="251.2" y="231.95" width="21.5" height="6.6" fill="#4DBEEE" stroke="#222" stroke-width="0.4"/>
<text x="274.3" y="236.95" class="g">FWHM =1.8%</text>
</g>
<g>
<clipPath id="c7"><rect x="364" y="224.55" width="126.15" height="124.9"/></clipPath>
<g clip-path="url(#c7)">
<path d="M363.7 351.45L363.7 349.5L363.9 262L364.2 259.5L364.57 261.34L364.93 263.24L365.3 265L365.7 263.79L366.1 263.9L366.5 262.5L366.87 262.2L367.23 261.11L367.6 260.3L368.15 259.74L368.7 259.2L369.15 258.49L369.6 257.5L370.1 257.03L370.6 256.4L371 254.43L371.4 252.48L371.8 250.5L372.7 245.5L373.1 244L373.5 248L373.9 259L374.4 266.9L374.9 266.59L375.4 266.2L375.83 265.88L376.27 265.51L376.7 265L377.13 263.82L377.57 262.33L378 261L379.2 257.3L380 261L380.37 263L380.73 265.12L381.1 266.9L381.6 268.31L382.1 269.68L382.6 271L383.03 271.98L383.45 273.25L383.88 273.9L384.3 275L384.75 274.57L385.2 274.3L385.7 274.01L386.2 273.9L386.6 274.57L387 275.17L387.4 275.8L387.83 276.71L388.27 276.94L388.7 277.3L389.12 277.43L389.55 277.79L389.97 278.24L390.4 278.5L390.8 278.57L391.2 278.92L391.6 278.9L392 278.27L392.4 277.88L392.8 277L393.35 275.26L393.9 273.5L394.3 275.57L394.7 277.5L395.07 278.87L395.43 279.72L395.8 281.1L396.33 281.85L396.87 282.54L397.4 283.3L397.85 283.81L398.3 284.12L398.75 284.95L399.2 285L399.66 285.35L400.12 285.34L400.58 285.5L401.04 286.78L401.5 286.2L402 286.24L402.5 286.94L403 286.57L403.5 286.38L404 286.9L404.5 287.2L405 287.16L405.5 286.78L406 287.21L406.5 286.9L407.05 286.61L407.6 286.34L408.15 286.22L408.7 286.5L409.17 286.91L409.63 285.98L410.1 285.54L410.57 285.71L411.03 285.57L411.5 285.2L412 285.33L412.5 284.58L413 284.46L413.5 284.03L414 284L414.53 284.4L415.07 285.22L415.6 285.8L416.03 286.41L416.45 286.42L416.88 287.53L417.3 287.8L417.8 288.34L418.3 288.62L418.8 288.8L419.2 288.73L419.6 288.42L420 287.3L420.37 286.6L420.73 286.62L421.1 285.9L421.57 286.9L422.03 287.31L422.5 288.2L423 290.61L423.5 290.17L424 290.7L424.48 291.38L424.95 292.07L425.42 291.59L425.9 292.2L426.27 291.36L426.63 291.22L427 290.7L427.4 290.06L427.8 289.7L428.25 291.13L428.7 292.5L429.2 294.12L429.7 295.1L430.16 295.66L430.62 295.7L431.08 296.73L431.54 296.84L432 297.2L432.48 297.43L432.96 297.78L433.44 298.55L433.92 298.98L434.4 299L434.92 299.05L435.43 299.94L435.95 301L436.47 300.79L436.98 300.43L437.5 300.9L438.01 300.93L438.53 301.46L439.04 301.81L439.56 303.1L440.07 302.88L440.59 302.27L441.1 302.8L441.59 303.3L442.08 303.87L442.56 303.99L443.05 304.52L443.54 303.4L444.02 303.71L444.51 305.19L445 304L445.53 304.18L446.06 304.09L446.59 304.76L447.11 304.82L447.64 304.96L448.17 304.69L448.7 304.7L449.17 304.91L449.64 304.96L450.11 304.78L450.59 304.53L451.06 304.24L451.53 304.45L452 304.5L452.48 304.96L452.96 305L453.44 305.48L453.92 305.26L454.4 303.8L454.91 304.02L455.43 304.77L455.94 303.01L456.46 304.65L456.97 304.89L457.49 303.99L458 302L458.5 302.61L459 302.22L459.5 301.5L460 302.19L460.5 300.99L461 300.88L461.5 301.6L462 300L462.48 300.19L462.96 299.98L463.44 299.15L463.92 299.74L464.4 298.7L464.9 298.45L465.4 298.26L465.9 298L466.4 299.15L466.9 298.8L467.35 299.03L467.8 300L468.25 301.74L468.7 302.21L469.15 301.83L469.6 302.5L470.1 303.88L470.6 303.67L471.1 304.08L471.6 304.7L472.08 304.5L472.55 305.8L473.02 305.71L473.5 305.3L473.98 306.24L474.45 306.03L474.92 306.61L475.4 305.7L475.85 306.91L476.3 306.57L476.75 309.09L477.2 308.5L477.7 309.32L478.2 309.84L478.7 313.32L479.2 312.3L479.66 312.39L480.12 317.82L480.58 314.44L481.04 314.54L481.5 315.3L482 318.07L482.5 313.71L483 314.71L483.5 317.25L484 318L484.5 321.71L485 319.35L485.5 326.64L486 320.72L486.5 320.5L487.05 318.74L487.6 320.64L488.15 317.95L488.7 322.8L489.12 327.07L489.55 322.61L489.97 331.72L490.4 324L490.4 351.45Z" fill="#A2142F" stroke="#000" stroke-width="0.8" stroke-linejoin="round"/>
</g>
<rect x="364" y="224.55" width="126.15" height="124.9" fill="none" stroke="#262626" stroke-width="0.58"/>
<path d="M364 224.55h1.3M490.15 224.55h-1.3M364 255.78h1.3M490.15 255.78h-1.3M364 287h1.3M490.15 287h-1.3M364 318.23h1.3M490.15 318.23h-1.3M364 349.45h1.3M490.15 349.45h-1.3M364 349.45v-1.3M364 224.55v1.3M389.23 349.45v-1.3M389.23 224.55v1.3M414.46 349.45v-1.3M414.46 224.55v1.3M439.69 349.45v-1.3M439.69 224.55v1.3M464.92 349.45v-1.3M464.92 224.55v1.3M490.15 349.45v-1.3M490.15 224.55v1.3" stroke="#262626" stroke-width="0.5" fill="none"/>
<text x="361" y="228" text-anchor="end" class="t">10<tspan dy="-3.6" font-size="5.8">0</tspan></text>
<text x="361" y="259.46" text-anchor="end" class="t">10<tspan dy="-3.6" font-size="5.8">-2</tspan></text>
<text x="361" y="290.9" text-anchor="end" class="t">10<tspan dy="-3.6" font-size="5.8">-4</tspan></text>
<text x="361" y="322.36" text-anchor="end" class="t">10<tspan dy="-3.6" font-size="5.8">-6</tspan></text>
<text x="361" y="353.8" text-anchor="end" class="t">10<tspan dy="-3.6" font-size="5.8">-8</tspan></text>
<text x="364" y="359.95" text-anchor="middle" class="t">0</text>
<text x="389.23" y="359.95" text-anchor="middle" class="t">200</text>
<text x="414.46" y="359.95" text-anchor="middle" class="t">400</text>
<text x="439.69" y="359.95" text-anchor="middle" class="t">600</text>
<text x="464.92" y="359.95" text-anchor="middle" class="t">800</text>
<text x="490.15" y="359.95" text-anchor="middle" class="t">1000</text>
<text x="427.07" y="370.05" text-anchor="middle" class="l">Energy [keV]</text>
<text transform="translate(342.7 287.7) rotate(-90)" text-anchor="middle" class="l">Counts [a.u.]</text>
<text x="427.07" y="220.05" text-anchor="middle" class="h"><tspan dy="-4.9" font-size="8.6">239</tspan><tspan dy="4.9">Pu</tspan></text>
</g>
<g>
<clipPath id="c8"><rect x="532.4" y="224.55" width="126.4" height="124.9"/></clipPath>
<g clip-path="url(#c8)">
<path d="M531.7 351.45L531.7 349.5L531.9 250L532.1 243L532.24 245.55L532.38 248.4L532.52 251.39L532.66 253.8L532.8 256L532.96 258.5L533.11 261.8L533.27 261.56L533.43 263.29L533.59 265.86L533.74 267.77L533.9 268.8L534.04 268.82L534.18 268.35L534.32 268.54L534.46 268.01L534.6 267.5L534.75 267.42L534.9 270.31L535.05 267.15L535.2 266.9L535.36 268.41L535.52 268.44L535.68 268.77L535.84 271.68L536 270L536.14 270.5L536.28 270.8L536.42 271.81L536.56 272.87L536.7 273.5L536.86 273.93L537.02 274.71L537.18 275.71L537.34 275.93L537.5 277L537.64 277.5L537.78 278.71L537.92 279.77L538.06 280.43L538.2 281.1L538.36 280.52L538.51 280.14L538.67 278.8L538.83 278.24L538.99 277.68L539.14 281.64L539.3 276.5L539.45 275.88L539.6 274.69L539.75 274.41L539.9 274.21L540.05 273.84L540.2 272.79L540.35 272.86L540.5 271.6L540.67 271.3L540.83 270.42L541 270.49L541.17 270.34L541.33 269.99L541.5 269.51L541.67 268.91L541.83 268.02L542 268L542.16 268.24L542.31 266.79L542.47 266.72L542.62 266.39L542.78 266.41L542.93 266.42L543.09 266.36L543.24 265.46L543.4 265L543.55 264.77L543.7 264.62L543.85 263.69L544 263.86L544.15 264.21L544.3 263.11L544.45 262.31L544.6 261.5L544.75 261.02L544.9 260.39L545.05 259.68L545.2 259.16L545.35 258.34L545.5 257.34L545.65 257.13L545.8 256.5L545.97 256.02L546.13 255.35L546.3 255.02L546.47 254.76L546.63 254.29L546.8 253.5L546.96 254.55L547.12 254.52L547.28 255.42L547.44 255.52L547.6 256L547.75 257.15L547.9 258.15L548.05 258.93L548.2 259.01L548.35 260.04L548.5 261.1L548.67 260.69L548.83 260.78L549 260.3L549.17 259.92L549.33 259.61L549.5 259.2L549.64 260.88L549.78 261.27L549.92 262.44L550.06 263.46L550.2 265L550.36 266.16L550.52 267.88L550.68 268.7L550.84 270.22L551 271.6L551.17 273.11L551.33 271.33L551.5 271.07L551.67 271.01L551.83 270.75L552 270.8L552.15 270.45L552.3 270.01L552.45 270L552.6 269.65L552.75 270.01L552.9 269.7L553.04 270.22L553.18 271.22L553.32 270.75L553.46 271.25L553.6 272L553.75 273.06L553.9 273.29L554.05 273.56L554.2 274.5L554.36 274.59L554.52 274.59L554.68 274.63L554.84 274.07L555 274.09L555.16 274.22L555.32 274.26L555.48 274.23L555.64 273.77L555.8 274.2L555.97 273.86L556.13 274.18L556.3 273.22L556.47 273.46L556.63 274.15L556.8 273.88L556.97 273.9L557.13 274.04L557.3 273.9L557.46 272.65L557.62 271.51L557.78 270.14L557.94 269.37L558.1 268L558.24 266.16L558.38 264.7L558.52 263.06L558.66 261.52L558.8 260L558.93 259.37L559.07 258.9L559.2 258.3L559.33 259.91L559.47 261.34L559.6 263L559.73 265.92L559.87 268.95L560 272L560.17 274.24L560.33 276.59L560.5 279.2L560.67 279.03L560.83 280.59L561 279.62L561.17 280.28L561.33 280.8L561.5 281.5L561.65 284.71L561.8 281.47L561.95 284.59L562.1 283.26L562.25 284.64L562.4 285L562.57 285.49L562.73 284.47L562.9 286.55L563.07 287.4L563.23 288.38L563.4 288.5L563.55 289.75L563.7 292.56L563.85 291.22L564 291.86L564.15 289.91L564.3 291.4L564.47 291.26L564.64 291.15L564.81 291.48L564.98 290.48L565.15 293.29L565.32 294.05L565.48 293.36L565.65 293.44L565.82 294.73L565.99 293.39L566.16 293.45L566.33 297.56L566.5 294.5L566.66 293.87L566.83 296.37L566.99 294.32L567.15 296.48L567.31 297.47L567.48 296.62L567.64 295.78L567.8 296.25L567.96 296.87L568.12 297.23L568.29 300.79L568.45 298.19L568.61 297.15L568.77 296.09L568.94 296.21L569.1 297.1L569.27 298.77L569.44 299.05L569.61 295.87L569.78 298.97L569.95 297.88L570.12 298.84L570.29 298.77L570.46 301.57L570.63 296.01L570.8 298.07L570.97 298.23L571.14 297.61L571.31 300.13L571.48 298.48L571.65 299.7L571.82 299.32L571.99 303.02L572.16 300.57L572.33 300.03L572.5 301L572.67 300.84L572.84 301.05L573 303.51L573.17 299.58L573.34 300.6L573.51 301.34L573.68 302.89L573.84 303.21L574.01 303.45L574.18 304.34L574.35 301.45L574.52 306.57L574.68 302.57L574.85 305.88L575.02 302.9L575.19 303.14L575.36 304.32L575.52 303.66L575.69 304.17L575.86 307.92L576.03 306.02L576.2 304.16L576.36 310.54L576.53 306.61L576.7 304.7L576.87 308.43L577.03 306.52L577.2 305.45L577.36 306.56L577.53 307.55L577.69 305.11L577.86 308.36L578.03 309.65L578.19 309.35L578.36 307.5L578.52 306.98L578.69 309.96L578.85 308.79L579.02 311.65L579.18 306.16L579.35 304.5L579.52 305.37L579.68 308.13L579.85 303.3L580.01 305.26L580.18 305.53L580.34 305.91L580.51 305.8L580.67 305.25L580.84 305.56L581.01 309.13L581.17 306.88L581.34 312.08L581.5 309.36L581.67 307.34L581.83 310.02L582 308.2L582.17 308.48L582.34 308.36L582.51 313.67L582.68 315.04L582.85 311.28L583.02 309.78L583.19 311.27L583.36 313.46L583.52 312.01L583.69 310.81L583.86 310.18L584.03 309.34L584.2 307.94L584.37 308.95L584.54 307.21L584.71 308.87L584.88 309.01L585.05 311.12L585.22 309.93L585.39 309.48L585.56 312.42L585.73 311.92L585.9 309.69L586.07 306.47L586.24 311.86L586.41 308.94L586.58 306.08L586.74 312.23L586.91 311.22L587.08 314.28L587.25 309.29L587.42 309.44L587.59 310.73L587.76 310.79L587.93 310.94L588.1 311.2L588.27 308.63L588.44 311.28L588.61 309.51L588.77 315.53L588.94 312.16L589.11 315.47L589.28 311.54L589.45 320.15L589.62 311.55L589.79 312.35L589.95 312.91L590.12 314.3L590.29 311.83L590.46 311.59L590.63 313.69L590.8 322.51L590.97 314.25L591.13 309.87L591.3 311.29L591.47 310.14L591.64 315.72L591.81 314.86L591.98 313.29L592.15 314.49L592.31 314.77L592.48 312.52L592.65 310.19L592.82 313.51L592.99 310.28L593.16 309.55L593.33 311.47L593.49 309.82L593.66 314.53L593.83 314.63L594 313.2L594.17 316.6L594.34 314.17L594.51 312.86L594.68 311.39L594.85 316.72L595.02 311.1L595.19 311.15L595.36 314.55L595.53 312.31L595.7 314.29L595.87 314.39L596.04 319.19L596.21 313.51L596.38 313.66L596.55 312.82L596.72 316.72L596.88 315.73L597.05 315L597.22 313.85L597.39 314.1L597.56 322.39L597.73 317.47L597.9 315.3L598.07 323.08L598.24 316.9L598.41 314.21L598.58 314.46L598.75 314.24L598.92 314.02L599.09 315.27L599.26 314.87L599.43 315.25L599.6 314.8L599.77 312.88L599.94 314.04L600.11 317.3L600.27 315.97L600.44 320.74L600.61 315.51L600.78 318.21L600.95 320.7L601.12 318.49L601.29 321.9L601.46 312.84L601.62 317.28L601.79 317.82L601.96 329.62L602.13 317.32L602.3 315.14L602.47 319.23L602.64 316.01L602.81 316.49L602.98 320.27L603.14 319.12L603.31 317.41L603.48 319.06L603.65 324.78L603.82 319.76L603.99 317.92L604.16 317.53L604.33 314.61L604.49 317.88L604.66 320.41L604.83 316.61L605 316.3L605.17 323.39L605.33 319.9L605.5 321.26L605.67 323.58L605.83 319.53L606 313.66L606.17 318.67L606.33 338.76L606.5 318.69L606.67 315.23L606.83 317.34L607 317.16L607.17 311.07L607.33 316.16L607.5 312.27L607.67 314.66L607.83 320.31L608 316.56L608.17 315.63L608.33 314.21L608.5 315.73L608.67 320.99L608.83 322.01L609 321.87L609.17 318.73L609.33 317.84L609.5 315.23L609.67 317.23L609.83 314.95L610 315.5L610.17 314.9L610.33 317.36L610.5 311.74L610.67 320.52L610.83 316.85L611 318L611.17 318.88L611.33 322.16L611.5 316.19L611.67 322.09L611.83 314.87L612 320.12L612.17 320.42L612.33 323.1L612.5 315.71L612.67 320.55L612.83 320.65L613 312.66L613.17 316.94L613.33 322.13L613.5 321.23L613.67 319.17L613.83 318.57L614 324.27L614.17 319.4L614.33 313.47L614.5 319.82L614.67 319.82L614.83 323.7L615 321.51L615.17 346.93L615.33 328.65L615.5 330.62L615.67 320.68L615.83 323.26L616 317.4L616.17 321.51L616.33 320.8L616.5 341.91L616.67 319.65L616.83 321.13L617 326.67L617.17 320.32L617.33 321.49L617.5 324.46L617.67 324.24L617.83 321.96L618 320L618.17 329.88L618.33 327.99L618.5 326.51L618.67 322.58L618.83 321.92L619 331.09L619.17 327.39L619.33 327.69L619.5 321.11L619.67 324.99L619.83 319.34L620 319.33L620.17 318.77L620.33 320.37L620.5 313.07L620.67 328.97L620.83 317.56L621 332.32L621.17 326.57L621.33 319.25L621.5 324.21L621.67 320.84L621.83 328.92L622 326.52L622.17 320.37L622.33 319.9L622.5 325.09L622.67 331.7L622.83 319.29L623 331.93L623.17 322.86L623.33 316.35L623.5 321.16L623.67 326.05L623.83 331.29L624 318.33L624.17 313.48L624.33 322.33L624.5 319.7L624.67 316.05L624.83 319.09L625 322L625.17 321.68L625.34 321.47L625.5 330.13L625.67 329.7L625.84 324.38L626.01 320.96L626.18 319.7L626.34 321.09L626.51 319.82L626.68 324.49L626.85 325.43L627.02 328.12L627.18 331.06L627.35 322.92L627.52 320.69L627.69 321.81L627.85 327.77L628.02 321.75L628.19 332.51L628.36 321.32L628.53 320.73L628.69 322.44L628.86 324.78L629.03 328.08L629.2 330.29L629.37 326.48L629.53 324.59L629.7 324.99L629.87 320.48L630.04 333.73L630.21 323.88L630.37 326.11L630.54 323.35L630.71 325.66L630.88 332.94L631.05 322.14L631.21 321.34L631.38 322.59L631.55 334.81L631.72 325.64L631.88 351.45L632.05 319.42L632.22 317.35L632.39 317.5L632.56 323.17L632.72 328.64L632.89 320.73L633.06 321.28L633.23 321.16L633.4 327.03L633.56 321.26L633.73 320.44L633.9 324.3L634.07 324.16L634.24 325.48L634.41 351.45L634.58 323.61L634.75 329.21L634.91 332.32L635.08 328.01L635.25 322.8L635.42 323.58L635.59 322.02L635.76 326.04L635.93 319.24L636.1 326.29L636.27 316.83L636.44 319.95L636.6 326.06L636.77 322.2L636.94 325.26L637.11 326.13L637.28 324.01L637.45 325.77L637.62 326.41L637.79 319.74L637.96 327.84L638.13 331.48L638.3 331.93L638.46 327.72L638.63 340.25L638.8 330.62L638.97 328.65L639.14 328.36L639.31 321.64L639.48 328.12L639.65 327.91L639.82 324.65L639.99 326.32L640.15 321.5L640.32 324.82L640.49 323.24L640.66 335.78L640.83 321.99L641 326L641.17 351.45L641.33 326.21L641.5 319.65L641.67 320.12L641.83 320.95L642 316.47L642.17 320.75L642.33 322.81L642.5 324.39L642.67 321.94L642.83 328.36L643 330.96L643.17 325.84L643.33 323.13L643.5 318.01L643.67 325.85L643.83 321.57L644 322.35L644.17 322.23L644.33 327.85L644.5 336.02L644.67 339.41L644.83 326.98L645 321.98L645.17 322.77L645.33 324.29L645.5 339.93L645.67 325.97L645.83 334.93L646 314.98L646.17 323.27L646.33 325.43L646.5 317.24L646.67 325.37L646.83 333.14L647 336.59L647.17 322L647.33 327.09L647.5 327.04L647.67 327.86L647.83 329.31L648 327.5L648.17 332.18L648.34 332.35L648.51 324.18L648.68 324.02L648.85 328.17L649.02 328.32L649.18 330.27L649.35 328.19L649.52 329.51L649.69 329.74L649.86 337.23L650.03 339.52L650.2 351.45L650.37 325.48L650.54 335.3L650.71 327.01L650.88 327.18L651.05 327.09L651.22 325.99L651.38 333.96L651.55 323.31L651.72 327.42L651.89 326.47L652.06 328.06L652.23 325.13L652.4 351.45L652.57 329.29L652.74 327.84L652.91 327.95L653.08 335.54L653.25 330.64L653.42 322.72L653.58 332.94L653.75 346.59L653.92 327.95L654.09 334.41L654.26 331.68L654.43 325.73L654.6 339.97L654.77 323.84L654.94 325.75L655.11 323.16L655.28 322.34L655.45 327.12L655.62 326.65L655.78 330.09L655.95 323.89L656.12 329.19L656.29 329.7L656.46 328.69L656.63 320.21L656.8 322.41L656.97 319.06L657.14 328.85L657.31 340.13L657.48 332.82L657.65 333.59L657.82 324.94L657.98 331.4L658.15 334.3L658.32 337.89L658.49 326.29L658.66 330.18L658.83 328.13L659 329.5L659 351.45Z" fill="#0072BD" stroke="#000" stroke-width="0.8" stroke-linejoin="round"/>
</g>
<rect x="532.4" y="224.55" width="126.4" height="124.9" fill="none" stroke="#262626" stroke-width="0.58"/>
<path d="M532.4 224.55h1.3M658.8 224.55h-1.3M532.4 255.78h1.3M658.8 255.78h-1.3M532.4 287h1.3M658.8 287h-1.3M532.4 318.23h1.3M658.8 318.23h-1.3M532.4 349.45h1.3M658.8 349.45h-1.3M532.4 349.45v-1.3M532.4 224.55v1.3M557.68 349.45v-1.3M557.68 224.55v1.3M582.96 349.45v-1.3M582.96 224.55v1.3M608.24 349.45v-1.3M608.24 224.55v1.3M633.52 349.45v-1.3M633.52 224.55v1.3M658.8 349.45v-1.3M658.8 224.55v1.3" stroke="#262626" stroke-width="0.5" fill="none"/>
<text x="529.4" y="228" text-anchor="end" class="t">10<tspan dy="-3.6" font-size="5.8">-1</tspan></text>
<text x="529.4" y="259.46" text-anchor="end" class="t">10<tspan dy="-3.6" font-size="5.8">-2</tspan></text>
<text x="529.4" y="290.9" text-anchor="end" class="t">10<tspan dy="-3.6" font-size="5.8">-3</tspan></text>
<text x="529.4" y="322.36" text-anchor="end" class="t">10<tspan dy="-3.6" font-size="5.8">-4</tspan></text>
<text x="529.4" y="353.8" text-anchor="end" class="t">10<tspan dy="-3.6" font-size="5.8">-5</tspan></text>
<text x="532.4" y="359.95" text-anchor="middle" class="t">0</text>
<text x="557.68" y="359.95" text-anchor="middle" class="t">200</text>
<text x="582.96" y="359.95" text-anchor="middle" class="t">400</text>
<text x="608.24" y="359.95" text-anchor="middle" class="t">600</text>
<text x="633.52" y="359.95" text-anchor="middle" class="t">800</text>
<text x="658.8" y="359.95" text-anchor="middle" class="t">1000</text>
<text x="595.6" y="370.05" text-anchor="middle" class="l">Energy [keV]</text>
<text transform="translate(511.1 287.7) rotate(-90)" text-anchor="middle" class="l">Counts [a.u.]</text>
<text x="595.6" y="220.05" text-anchor="middle" class="h"><tspan dy="-4.9" font-size="8.6">238</tspan><tspan dy="4.9">U + </tspan><tspan dy="-4.9" font-size="8.6">235</tspan><tspan dy="4.9">U</tspan></text>
</g>
</svg>
</body>
</html>
